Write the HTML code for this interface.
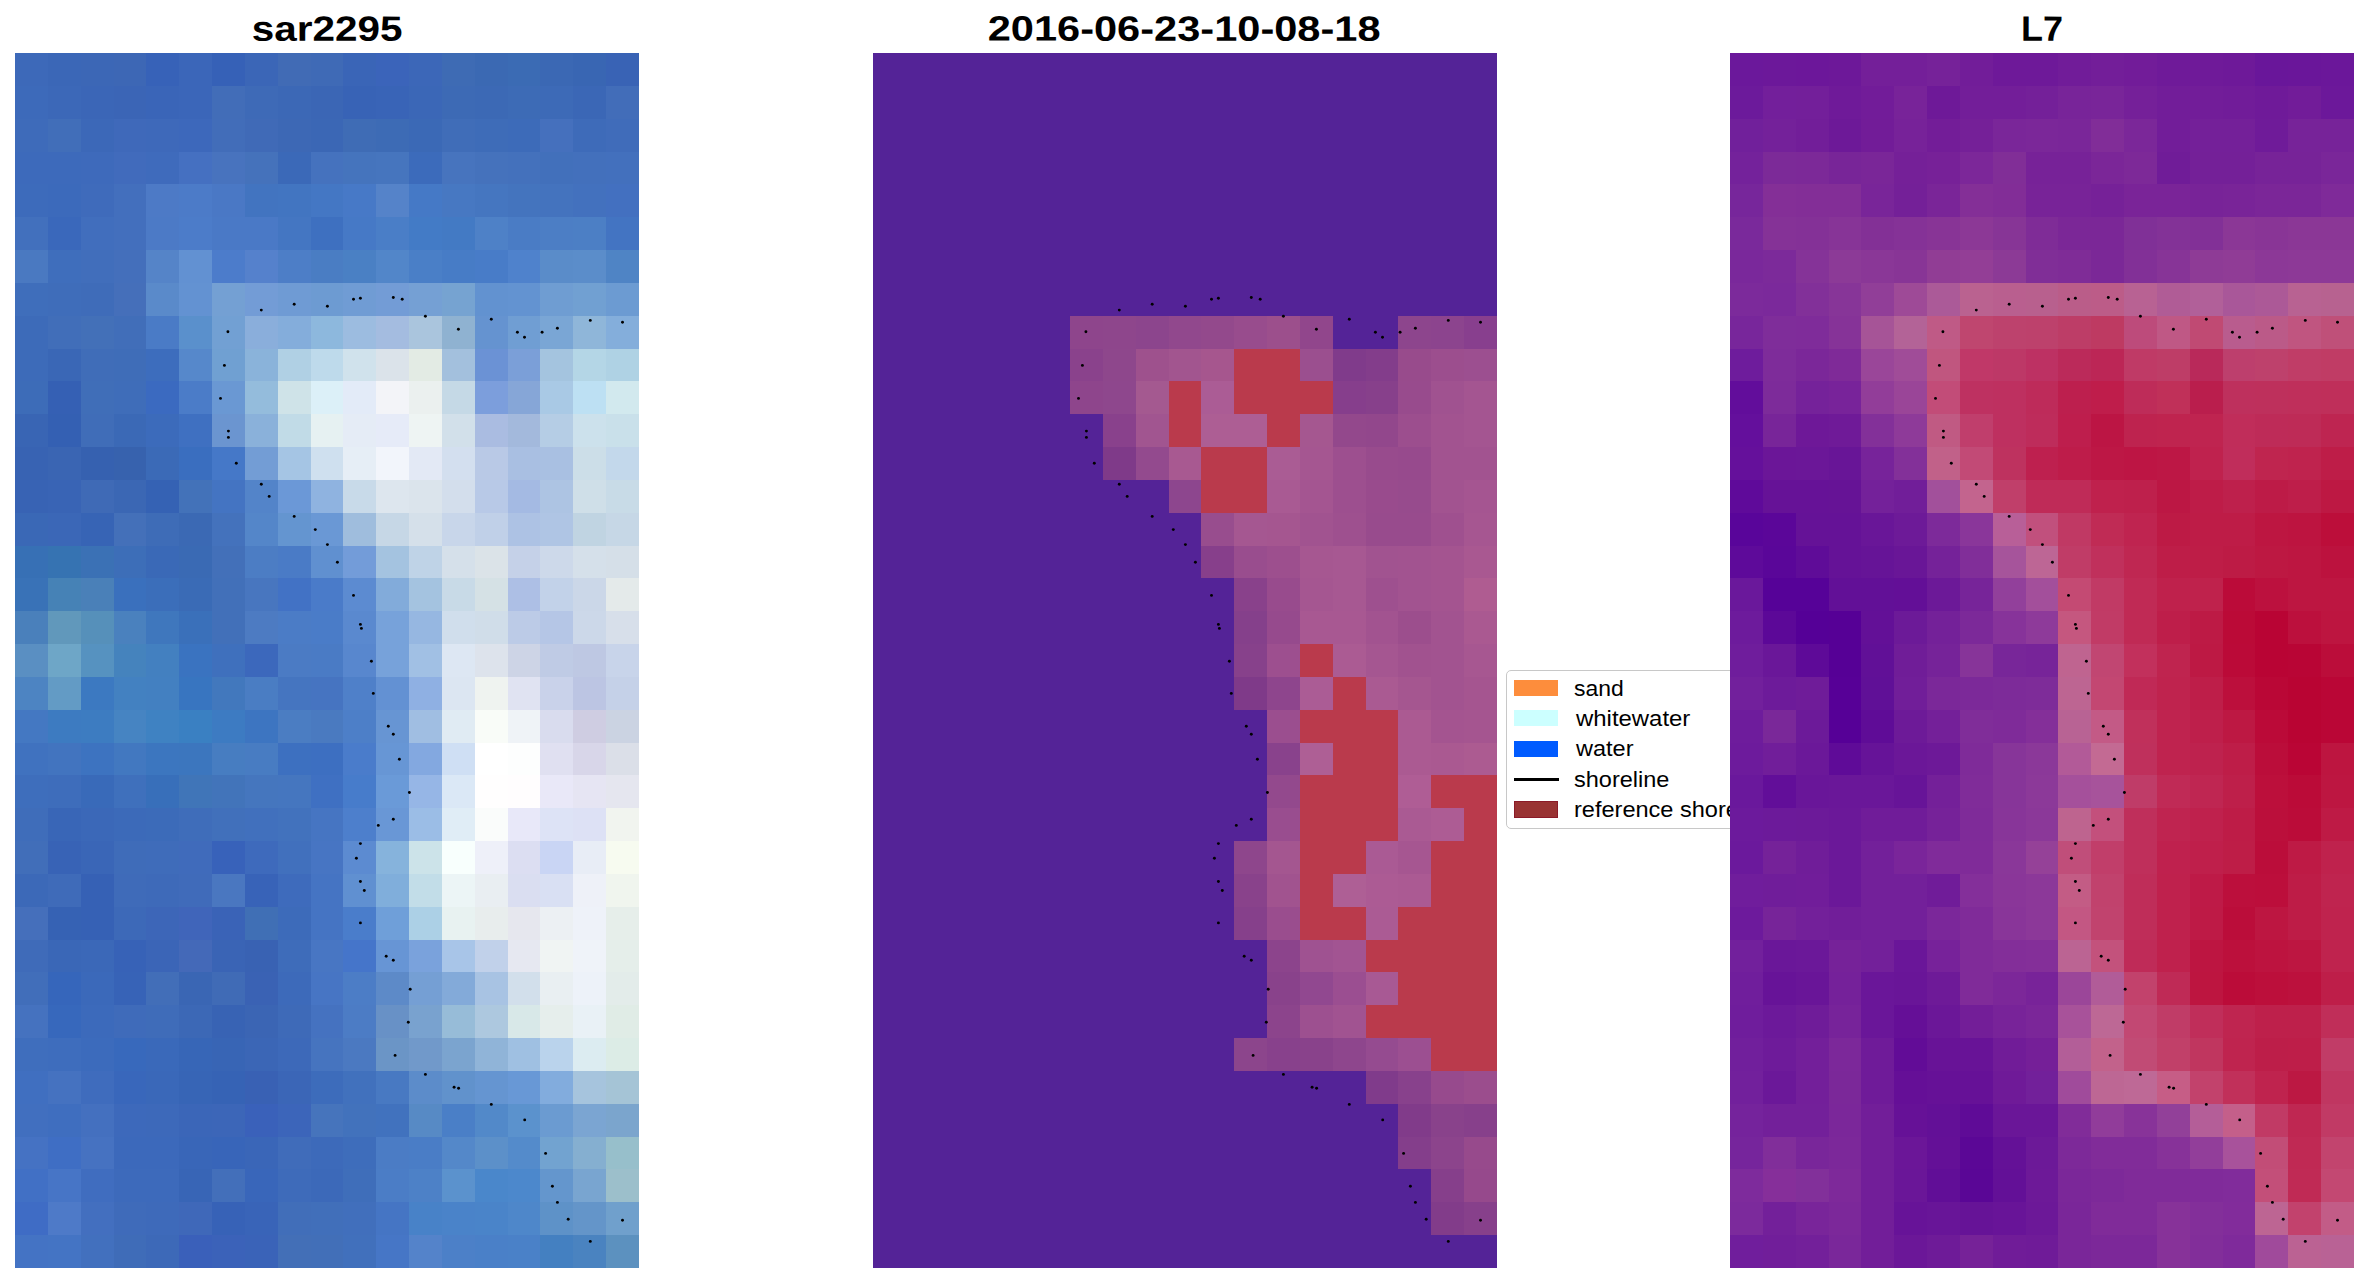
<!DOCTYPE html>
<html><head><meta charset="utf-8"><title>shoreline</title>
<style>
html,body{margin:0;padding:0;background:#fff;}
body{width:2369px;height:1283px;position:relative;overflow:hidden;font-family:"Liberation Sans",sans-serif;color:#000;}
.p{position:absolute;top:53px;display:block;}
.t{position:absolute;top:8.9px;height:40px;line-height:40px;font-weight:bold;font-size:36px;white-space:nowrap;text-align:center;transform-origin:50% 50%;}
.t span{display:inline-block;transform-origin:50% 50%;}
#lg{position:absolute;left:1506.4px;top:670.2px;width:240px;height:159.2px;box-sizing:border-box;border:1.5px solid #c8c8c8;border-radius:5px;background:#fff;}
.sw{position:absolute;left:1514px;width:44px;height:15.5px;}
.lb{position:absolute;left:1574px;font-size:22px;height:30px;line-height:30px;white-space:nowrap;}
.lb span{display:inline-block;transform-origin:0 50%;}
</style></head><body>
<div class="t" style="left:177px;width:300px"><span style="transform:rotate(0.03deg) scale(1.124,0.975)">sar2295</span></div>
<div class="t" style="left:934.3px;width:500px"><span style="transform:rotate(0.03deg) scale(1.1545,0.975)">2016-06-23-10-08-18</span></div>
<div class="t" style="left:1892px;width:300px"><span style="transform:rotate(0.03deg) scale(1.0,0.975)">L7</span></div>
<div id="lg"></div>
<div class="sw" style="top:680.3px;background:#fd8d3c"></div>
<div class="sw" style="top:710.3px;height:16px;background:#ccffff"></div>
<div class="sw" style="top:741.3px;background:#005bff"></div>
<div class="sw" style="top:777.5px;height:3.4px;width:45px;background:#000"></div>
<div class="sw" style="top:801px;height:16.8px;background:#993333;box-sizing:border-box;border:1.5px solid #8b1a28"></div>
<div class="lb" style="top:673.6px"><span style="transform:scaleX(1.042)">sand</span></div>
<div class="lb" style="top:703.9px;left:1576px"><span style="transform:scaleX(1.087)">whitewater</span></div>
<div class="lb" style="top:734.2px;left:1576px"><span style="transform:scaleX(1.068)">water</span></div>
<div class="lb" style="top:764.5px"><span style="transform:scaleX(1.068)">shoreline</span></div>
<div class="lb" style="top:794.8px"><span style="transform:scaleX(1.07)">reference shoreline</span></div>
<svg class="p" style="left:15px;background:#3d69b9" width="624" height="1215" viewBox="0 0 624 1215" shape-rendering="crispEdges"><rect x="33" y="0" width="33" height="33" fill="#3b67b7"/><rect x="66" y="0" width="33" height="33" fill="#3c67b6"/><rect x="99" y="0" width="32" height="33" fill="#3d67b5"/><rect x="131" y="0" width="33" height="33" fill="#3762b8"/><rect x="164" y="0" width="33" height="33" fill="#3b66b9"/><rect x="197" y="0" width="33" height="33" fill="#3661b7"/><rect x="230" y="0" width="33" height="33" fill="#3b66b7"/><rect x="263" y="0" width="33" height="33" fill="#416bb5"/><rect x="296" y="0" width="32" height="33" fill="#3f6ab6"/><rect x="328" y="0" width="33" height="33" fill="#3a65b7"/><rect x="361" y="0" width="33" height="33" fill="#3b64ba"/><rect x="394" y="0" width="33" height="33" fill="#3c67b8"/><rect x="427" y="0" width="33" height="33" fill="#3e6bb4"/><rect x="460" y="0" width="33" height="33" fill="#3b69b3"/><rect x="493" y="0" width="32" height="33" fill="#3b6bb4"/><rect x="525" y="0" width="33" height="33" fill="#3b68b4"/><rect x="558" y="0" width="33" height="33" fill="#3966b3"/><rect x="591" y="0" width="33" height="33" fill="#3963b5"/><rect x="0" y="33" width="33" height="33" fill="#3d6aba"/><rect x="33" y="33" width="33" height="33" fill="#3c68b8"/><rect x="66" y="33" width="33" height="33" fill="#3b66b7"/><rect x="99" y="33" width="32" height="33" fill="#3b65b6"/><rect x="131" y="33" width="33" height="33" fill="#3a65b8"/><rect x="164" y="33" width="33" height="33" fill="#3b66b9"/><rect x="197" y="33" width="33" height="33" fill="#426db8"/><rect x="230" y="33" width="33" height="33" fill="#3e6ab7"/><rect x="263" y="33" width="33" height="33" fill="#3c68b6"/><rect x="296" y="33" width="32" height="33" fill="#3b66b5"/><rect x="328" y="33" width="33" height="33" fill="#3863b6"/><rect x="361" y="33" width="33" height="33" fill="#3964b7"/><rect x="394" y="33" width="33" height="33" fill="#3b67b7"/><rect x="427" y="33" width="33" height="33" fill="#3d6ab5"/><rect x="460" y="33" width="33" height="33" fill="#3c69b5"/><rect x="493" y="33" width="32" height="33" fill="#3d6bb6"/><rect x="525" y="33" width="33" height="33" fill="#3d6ab7"/><rect x="558" y="33" width="33" height="33" fill="#3b67b6"/><rect x="591" y="33" width="33" height="33" fill="#426db9"/><rect x="0" y="66" width="33" height="33" fill="#3e6bba"/><rect x="33" y="66" width="33" height="33" fill="#416eb9"/><rect x="66" y="66" width="33" height="33" fill="#3c68b8"/><rect x="99" y="66" width="32" height="33" fill="#3f69ba"/><rect x="131" y="66" width="33" height="33" fill="#3e69ba"/><rect x="164" y="66" width="33" height="33" fill="#3d68bb"/><rect x="197" y="66" width="33" height="33" fill="#426db9"/><rect x="230" y="66" width="33" height="33" fill="#406ab7"/><rect x="263" y="66" width="33" height="33" fill="#3d68b5"/><rect x="296" y="66" width="32" height="33" fill="#3b67b5"/><rect x="328" y="66" width="33" height="33" fill="#3f6cb5"/><rect x="361" y="66" width="33" height="33" fill="#3d6bb5"/><rect x="394" y="66" width="33" height="33" fill="#3b69b6"/><rect x="427" y="66" width="33" height="33" fill="#406db8"/><rect x="460" y="66" width="33" height="33" fill="#3e6cb8"/><rect x="493" y="66" width="32" height="33" fill="#3d6bb9"/><rect x="525" y="66" width="33" height="33" fill="#4570bd"/><rect x="558" y="66" width="33" height="33" fill="#3e6bb9"/><rect x="591" y="66" width="33" height="33" fill="#406cba"/><rect x="0" y="99" width="66" height="32" fill="#3d6abb"/><rect x="66" y="99" width="33" height="32" fill="#3e6abb"/><rect x="99" y="99" width="32" height="32" fill="#416bbc"/><rect x="131" y="99" width="33" height="32" fill="#3f6bbc"/><rect x="164" y="99" width="33" height="32" fill="#4570c1"/><rect x="197" y="99" width="33" height="32" fill="#4873be"/><rect x="230" y="99" width="33" height="32" fill="#4572bb"/><rect x="263" y="99" width="33" height="32" fill="#3b69b8"/><rect x="296" y="99" width="32" height="32" fill="#4572be"/><rect x="328" y="99" width="33" height="32" fill="#4574bd"/><rect x="361" y="99" width="33" height="32" fill="#4675be"/><rect x="394" y="99" width="33" height="32" fill="#3c6bbb"/><rect x="427" y="99" width="33" height="32" fill="#4774be"/><rect x="460" y="99" width="33" height="32" fill="#4572bc"/><rect x="493" y="99" width="32" height="32" fill="#4471bc"/><rect x="525" y="99" width="33" height="32" fill="#4270bb"/><rect x="558" y="99" width="33" height="32" fill="#4370bc"/><rect x="591" y="99" width="33" height="32" fill="#4370bd"/><rect x="0" y="131" width="33" height="33" fill="#3d6bbb"/><rect x="33" y="131" width="33" height="33" fill="#3c6abb"/><rect x="66" y="131" width="33" height="33" fill="#3f6bbb"/><rect x="99" y="131" width="32" height="33" fill="#436fbd"/><rect x="131" y="131" width="33" height="33" fill="#4d7ac6"/><rect x="164" y="131" width="33" height="33" fill="#4c7bc8"/><rect x="197" y="131" width="33" height="33" fill="#4a78c5"/><rect x="230" y="131" width="33" height="33" fill="#4274c0"/><rect x="263" y="131" width="33" height="33" fill="#4275c1"/><rect x="296" y="131" width="32" height="33" fill="#4477c4"/><rect x="328" y="131" width="33" height="33" fill="#4779c7"/><rect x="361" y="131" width="33" height="33" fill="#5583c9"/><rect x="394" y="131" width="33" height="33" fill="#4579c6"/><rect x="427" y="131" width="33" height="33" fill="#4778c2"/><rect x="460" y="131" width="33" height="33" fill="#4576c0"/><rect x="493" y="131" width="32" height="33" fill="#4474be"/><rect x="525" y="131" width="33" height="33" fill="#4473be"/><rect x="558" y="131" width="33" height="33" fill="#4371be"/><rect x="591" y="131" width="33" height="33" fill="#4370c0"/><rect x="0" y="164" width="33" height="33" fill="#4270bd"/><rect x="33" y="164" width="33" height="33" fill="#3a68bb"/><rect x="66" y="164" width="33" height="33" fill="#416ebd"/><rect x="99" y="164" width="32" height="33" fill="#436fbd"/><rect x="131" y="164" width="33" height="33" fill="#4c7ac6"/><rect x="164" y="164" width="33" height="33" fill="#4c7cc9"/><rect x="197" y="164" width="66" height="33" fill="#4a79c6"/><rect x="263" y="164" width="33" height="33" fill="#4476c2"/><rect x="296" y="164" width="32" height="33" fill="#3e70c0"/><rect x="328" y="164" width="33" height="33" fill="#4679c6"/><rect x="361" y="164" width="33" height="33" fill="#4a7ec7"/><rect x="394" y="164" width="33" height="33" fill="#437bc6"/><rect x="427" y="164" width="33" height="33" fill="#437ac4"/><rect x="460" y="164" width="33" height="33" fill="#4e81c7"/><rect x="493" y="164" width="32" height="33" fill="#4a7cc5"/><rect x="525" y="164" width="33" height="33" fill="#4c7ec5"/><rect x="558" y="164" width="33" height="33" fill="#4c7fc5"/><rect x="591" y="164" width="33" height="33" fill="#4374c2"/><rect x="0" y="197" width="33" height="33" fill="#4a79c1"/><rect x="33" y="197" width="33" height="33" fill="#3f6ebc"/><rect x="66" y="197" width="33" height="33" fill="#416ebb"/><rect x="99" y="197" width="32" height="33" fill="#446fbb"/><rect x="131" y="197" width="33" height="33" fill="#5584c8"/><rect x="164" y="197" width="33" height="33" fill="#6291d2"/><rect x="197" y="197" width="33" height="33" fill="#4c7ccb"/><rect x="230" y="197" width="33" height="33" fill="#5581cc"/><rect x="263" y="197" width="33" height="33" fill="#4d7ec7"/><rect x="296" y="197" width="32" height="33" fill="#4a7dc3"/><rect x="328" y="197" width="33" height="33" fill="#4a80c4"/><rect x="361" y="197" width="33" height="33" fill="#5286c9"/><rect x="394" y="197" width="33" height="33" fill="#4a7fc7"/><rect x="427" y="197" width="33" height="33" fill="#477cc6"/><rect x="460" y="197" width="33" height="33" fill="#487cc8"/><rect x="493" y="197" width="32" height="33" fill="#4f82cc"/><rect x="525" y="197" width="33" height="33" fill="#5a8cc9"/><rect x="558" y="197" width="33" height="33" fill="#5b8dca"/><rect x="591" y="197" width="33" height="33" fill="#4f84c5"/><rect x="0" y="230" width="33" height="33" fill="#3f6ebb"/><rect x="33" y="230" width="33" height="33" fill="#3f6dba"/><rect x="66" y="230" width="33" height="33" fill="#3f6cb9"/><rect x="99" y="230" width="32" height="33" fill="#456fba"/><rect x="131" y="230" width="33" height="33" fill="#5a8aca"/><rect x="164" y="230" width="33" height="33" fill="#6392d2"/><rect x="197" y="230" width="33" height="33" fill="#74a0d3"/><rect x="230" y="230" width="33" height="33" fill="#739cd6"/><rect x="263" y="230" width="33" height="33" fill="#6f9bd4"/><rect x="296" y="230" width="32" height="33" fill="#6d9bd2"/><rect x="328" y="230" width="33" height="33" fill="#709cd4"/><rect x="361" y="230" width="33" height="33" fill="#739cd6"/><rect x="394" y="230" width="33" height="33" fill="#75a0d4"/><rect x="427" y="230" width="33" height="33" fill="#76a3d1"/><rect x="460" y="230" width="33" height="33" fill="#6292d0"/><rect x="493" y="230" width="32" height="33" fill="#6393d1"/><rect x="525" y="230" width="33" height="33" fill="#6f9dd2"/><rect x="558" y="230" width="33" height="33" fill="#71a0d2"/><rect x="591" y="230" width="33" height="33" fill="#6c9bd2"/><rect x="0" y="263" width="33" height="33" fill="#3d6bb9"/><rect x="33" y="263" width="33" height="33" fill="#416eb9"/><rect x="66" y="263" width="33" height="33" fill="#4370b8"/><rect x="99" y="263" width="32" height="33" fill="#416eb9"/><rect x="131" y="263" width="33" height="33" fill="#4a7bc6"/><rect x="164" y="263" width="33" height="33" fill="#5a90cc"/><rect x="197" y="263" width="33" height="33" fill="#72a0d3"/><rect x="230" y="263" width="33" height="33" fill="#8aaedb"/><rect x="263" y="263" width="33" height="33" fill="#84addb"/><rect x="296" y="263" width="32" height="33" fill="#8db8dd"/><rect x="328" y="263" width="33" height="33" fill="#9cbce0"/><rect x="361" y="263" width="33" height="33" fill="#a4bce0"/><rect x="394" y="263" width="33" height="33" fill="#aac5dd"/><rect x="427" y="263" width="33" height="33" fill="#8fb2d1"/><rect x="460" y="263" width="33" height="33" fill="#6593d0"/><rect x="493" y="263" width="32" height="33" fill="#709ed3"/><rect x="525" y="263" width="33" height="33" fill="#7aa6d5"/><rect x="558" y="263" width="33" height="33" fill="#8fb6d9"/><rect x="591" y="263" width="33" height="33" fill="#84aedb"/><rect x="0" y="296" width="33" height="32" fill="#3d6bb9"/><rect x="33" y="296" width="33" height="32" fill="#3a67b6"/><rect x="66" y="296" width="33" height="32" fill="#406db8"/><rect x="99" y="296" width="32" height="32" fill="#3f6db8"/><rect x="131" y="296" width="33" height="32" fill="#3d6dbd"/><rect x="164" y="296" width="33" height="32" fill="#5688cb"/><rect x="197" y="296" width="33" height="32" fill="#70a0d2"/><rect x="230" y="296" width="33" height="32" fill="#8ab3da"/><rect x="263" y="296" width="33" height="32" fill="#b0d0e4"/><rect x="296" y="296" width="32" height="32" fill="#bedaeb"/><rect x="328" y="296" width="33" height="32" fill="#d0e2ec"/><rect x="361" y="296" width="33" height="32" fill="#dbe3ea"/><rect x="394" y="296" width="33" height="32" fill="#e3ebe4"/><rect x="427" y="296" width="33" height="32" fill="#a3c0dd"/><rect x="460" y="296" width="33" height="32" fill="#6b92d5"/><rect x="493" y="296" width="32" height="32" fill="#7b9fd8"/><rect x="525" y="296" width="33" height="32" fill="#a4c4df"/><rect x="558" y="296" width="33" height="32" fill="#b4d6e6"/><rect x="591" y="296" width="33" height="32" fill="#afd2e4"/><rect x="0" y="328" width="33" height="33" fill="#3d6cb8"/><rect x="33" y="328" width="33" height="33" fill="#3560b4"/><rect x="66" y="328" width="33" height="33" fill="#406eb8"/><rect x="99" y="328" width="32" height="33" fill="#3f6db9"/><rect x="131" y="328" width="33" height="33" fill="#3b6ac0"/><rect x="164" y="328" width="33" height="33" fill="#4b7cc8"/><rect x="197" y="328" width="33" height="33" fill="#6a98d3"/><rect x="230" y="328" width="33" height="33" fill="#94bcdc"/><rect x="263" y="328" width="33" height="33" fill="#cfe3e8"/><rect x="296" y="328" width="32" height="33" fill="#dcf0f8"/><rect x="328" y="328" width="33" height="33" fill="#e3ebf8"/><rect x="361" y="328" width="33" height="33" fill="#f3f4f8"/><rect x="394" y="328" width="33" height="33" fill="#ebf0ef"/><rect x="427" y="328" width="33" height="33" fill="#c5d9e6"/><rect x="460" y="328" width="33" height="33" fill="#7c9edc"/><rect x="493" y="328" width="32" height="33" fill="#86a6d7"/><rect x="525" y="328" width="33" height="33" fill="#a9c9e5"/><rect x="558" y="328" width="33" height="33" fill="#bde0f3"/><rect x="591" y="328" width="33" height="33" fill="#d2e9ee"/><rect x="0" y="361" width="33" height="33" fill="#3965b4"/><rect x="33" y="361" width="33" height="33" fill="#3460b3"/><rect x="66" y="361" width="33" height="33" fill="#406db8"/><rect x="99" y="361" width="32" height="33" fill="#3b69b6"/><rect x="131" y="361" width="33" height="33" fill="#3c6bbb"/><rect x="164" y="361" width="33" height="33" fill="#3f70c1"/><rect x="197" y="361" width="33" height="33" fill="#6b95d0"/><rect x="230" y="361" width="33" height="33" fill="#8ab1da"/><rect x="263" y="361" width="33" height="33" fill="#c1dbe7"/><rect x="296" y="361" width="32" height="33" fill="#e6f1f2"/><rect x="328" y="361" width="33" height="33" fill="#e5ecf6"/><rect x="361" y="361" width="33" height="33" fill="#e6ebf8"/><rect x="394" y="361" width="33" height="33" fill="#eef4f3"/><rect x="427" y="361" width="33" height="33" fill="#d2e0ea"/><rect x="460" y="361" width="33" height="33" fill="#aabce1"/><rect x="493" y="361" width="32" height="33" fill="#a3b9dc"/><rect x="525" y="361" width="33" height="33" fill="#b5cde5"/><rect x="558" y="361" width="33" height="33" fill="#cce1ec"/><rect x="591" y="361" width="33" height="33" fill="#c9e0ea"/><rect x="0" y="394" width="33" height="33" fill="#3863b3"/><rect x="33" y="394" width="33" height="33" fill="#3a65b3"/><rect x="66" y="394" width="33" height="33" fill="#3661b0"/><rect x="99" y="394" width="32" height="33" fill="#3762ae"/><rect x="131" y="394" width="33" height="33" fill="#3b6ab7"/><rect x="164" y="394" width="33" height="33" fill="#3a6ebf"/><rect x="197" y="394" width="33" height="33" fill="#4578c8"/><rect x="230" y="394" width="33" height="33" fill="#739dd5"/><rect x="263" y="394" width="33" height="33" fill="#a5c5e4"/><rect x="296" y="394" width="32" height="33" fill="#cfe0ef"/><rect x="328" y="394" width="33" height="33" fill="#e6eef6"/><rect x="361" y="394" width="33" height="33" fill="#f2f5fb"/><rect x="394" y="394" width="33" height="33" fill="#e3e9f5"/><rect x="427" y="394" width="33" height="33" fill="#d3dfef"/><rect x="460" y="394" width="33" height="33" fill="#b9c9e6"/><rect x="493" y="394" width="32" height="33" fill="#a9bfe2"/><rect x="525" y="394" width="33" height="33" fill="#a9c0e2"/><rect x="558" y="394" width="33" height="33" fill="#ccdee8"/><rect x="591" y="394" width="33" height="33" fill="#c3d8eb"/><rect x="0" y="427" width="33" height="33" fill="#3863b4"/><rect x="33" y="427" width="33" height="33" fill="#3964b5"/><rect x="66" y="427" width="33" height="33" fill="#3f6ab6"/><rect x="99" y="427" width="32" height="33" fill="#3b67b4"/><rect x="131" y="427" width="33" height="33" fill="#3562b4"/><rect x="164" y="427" width="33" height="33" fill="#4372b9"/><rect x="197" y="427" width="33" height="33" fill="#4474c2"/><rect x="230" y="427" width="33" height="33" fill="#5384c9"/><rect x="263" y="427" width="33" height="33" fill="#6b98d7"/><rect x="296" y="427" width="32" height="33" fill="#8fb3e0"/><rect x="328" y="427" width="33" height="33" fill="#c8dae9"/><rect x="361" y="427" width="33" height="33" fill="#dde6ee"/><rect x="394" y="427" width="33" height="33" fill="#dbe4ec"/><rect x="427" y="427" width="33" height="33" fill="#d3deec"/><rect x="460" y="427" width="33" height="33" fill="#b8c9e7"/><rect x="493" y="427" width="32" height="33" fill="#a4bae3"/><rect x="525" y="427" width="33" height="33" fill="#adc4e3"/><rect x="558" y="427" width="33" height="33" fill="#cfdfe8"/><rect x="591" y="427" width="33" height="33" fill="#c8dbe7"/><rect x="0" y="460" width="33" height="33" fill="#3a68b6"/><rect x="33" y="460" width="33" height="33" fill="#3b67b7"/><rect x="66" y="460" width="33" height="33" fill="#3764b5"/><rect x="99" y="460" width="32" height="33" fill="#4470b9"/><rect x="131" y="460" width="33" height="33" fill="#3e6cb7"/><rect x="164" y="460" width="33" height="33" fill="#3b69b4"/><rect x="197" y="460" width="33" height="33" fill="#4472bc"/><rect x="230" y="460" width="33" height="33" fill="#5486c9"/><rect x="263" y="460" width="33" height="33" fill="#6495d0"/><rect x="296" y="460" width="32" height="33" fill="#6a98d5"/><rect x="328" y="460" width="33" height="33" fill="#9fbddd"/><rect x="361" y="460" width="33" height="33" fill="#c6d7e6"/><rect x="394" y="460" width="33" height="33" fill="#d5e0ea"/><rect x="427" y="460" width="33" height="33" fill="#c8d6ea"/><rect x="460" y="460" width="33" height="33" fill="#c0d0e8"/><rect x="493" y="460" width="32" height="33" fill="#adc2e4"/><rect x="525" y="460" width="33" height="33" fill="#afc5e4"/><rect x="558" y="460" width="33" height="33" fill="#c0d4e2"/><rect x="591" y="460" width="33" height="33" fill="#c6d7e6"/><rect x="0" y="493" width="33" height="32" fill="#3770b5"/><rect x="33" y="493" width="33" height="32" fill="#3673b2"/><rect x="66" y="493" width="33" height="32" fill="#3b71b5"/><rect x="99" y="493" width="32" height="32" fill="#3d6eb8"/><rect x="131" y="493" width="33" height="32" fill="#3a69b7"/><rect x="164" y="493" width="33" height="32" fill="#3a6ab4"/><rect x="197" y="493" width="33" height="32" fill="#4370b9"/><rect x="230" y="493" width="33" height="32" fill="#4c7dc4"/><rect x="263" y="493" width="33" height="32" fill="#4a7bc6"/><rect x="296" y="493" width="32" height="32" fill="#6090d0"/><rect x="328" y="493" width="33" height="32" fill="#739cd9"/><rect x="361" y="493" width="33" height="32" fill="#a4c3e0"/><rect x="394" y="493" width="33" height="32" fill="#bfd3e7"/><rect x="427" y="493" width="33" height="32" fill="#d5e0ea"/><rect x="460" y="493" width="33" height="32" fill="#dbe3e8"/><rect x="493" y="493" width="32" height="32" fill="#c5d1e8"/><rect x="525" y="493" width="33" height="32" fill="#cdd9ea"/><rect x="558" y="493" width="33" height="32" fill="#d5e0ea"/><rect x="591" y="493" width="33" height="32" fill="#d5dfe8"/><rect x="0" y="525" width="33" height="33" fill="#3972b7"/><rect x="33" y="525" width="33" height="33" fill="#4682b6"/><rect x="66" y="525" width="33" height="33" fill="#4a80b8"/><rect x="99" y="525" width="32" height="33" fill="#3a70bd"/><rect x="131" y="525" width="33" height="33" fill="#3b6eba"/><rect x="164" y="525" width="33" height="33" fill="#3a6bb6"/><rect x="197" y="525" width="33" height="33" fill="#4270b9"/><rect x="230" y="525" width="33" height="33" fill="#4876bf"/><rect x="263" y="525" width="33" height="33" fill="#4272c5"/><rect x="296" y="525" width="32" height="33" fill="#4a7bc9"/><rect x="328" y="525" width="33" height="33" fill="#5c8bd1"/><rect x="361" y="525" width="33" height="33" fill="#82abda"/><rect x="394" y="525" width="33" height="33" fill="#a4c3e0"/><rect x="427" y="525" width="33" height="33" fill="#c8dae7"/><rect x="460" y="525" width="33" height="33" fill="#d5e1e5"/><rect x="493" y="525" width="32" height="33" fill="#adbfe5"/><rect x="525" y="525" width="33" height="33" fill="#c2d2e9"/><rect x="558" y="525" width="33" height="33" fill="#cbd7e8"/><rect x="591" y="525" width="33" height="33" fill="#e4eaea"/><rect x="0" y="558" width="33" height="33" fill="#4a80bb"/><rect x="33" y="558" width="33" height="33" fill="#6198bb"/><rect x="66" y="558" width="33" height="33" fill="#5690ba"/><rect x="99" y="558" width="32" height="33" fill="#4a81be"/><rect x="131" y="558" width="33" height="33" fill="#3f77bd"/><rect x="164" y="558" width="33" height="33" fill="#3a70ba"/><rect x="197" y="558" width="33" height="33" fill="#4270b9"/><rect x="230" y="558" width="33" height="33" fill="#4d7bc2"/><rect x="263" y="558" width="33" height="33" fill="#4b7cc6"/><rect x="296" y="558" width="32" height="33" fill="#4a7cc8"/><rect x="328" y="558" width="33" height="33" fill="#5a89cf"/><rect x="361" y="558" width="33" height="33" fill="#77a2da"/><rect x="394" y="558" width="33" height="33" fill="#96b7e1"/><rect x="427" y="558" width="33" height="33" fill="#d0deec"/><rect x="460" y="558" width="33" height="33" fill="#d0dde9"/><rect x="493" y="558" width="32" height="33" fill="#bccbe7"/><rect x="525" y="558" width="33" height="33" fill="#b5c6e6"/><rect x="558" y="558" width="33" height="33" fill="#ccd8e9"/><rect x="591" y="558" width="33" height="33" fill="#d7dfea"/><rect x="0" y="591" width="33" height="33" fill="#5a8fc2"/><rect x="33" y="591" width="33" height="33" fill="#6ea6c7"/><rect x="66" y="591" width="33" height="33" fill="#5692c0"/><rect x="99" y="591" width="32" height="33" fill="#4583bd"/><rect x="131" y="591" width="33" height="33" fill="#4380c0"/><rect x="164" y="591" width="33" height="33" fill="#3a73c0"/><rect x="197" y="591" width="33" height="33" fill="#3f70bd"/><rect x="230" y="591" width="33" height="33" fill="#3c68bc"/><rect x="263" y="591" width="33" height="33" fill="#4b7bc4"/><rect x="296" y="591" width="32" height="33" fill="#4a7bc5"/><rect x="328" y="591" width="33" height="33" fill="#5887ce"/><rect x="361" y="591" width="33" height="33" fill="#77a2da"/><rect x="394" y="591" width="33" height="33" fill="#a1c0e4"/><rect x="427" y="591" width="33" height="33" fill="#dde7f3"/><rect x="460" y="591" width="33" height="33" fill="#dde3ec"/><rect x="493" y="591" width="32" height="33" fill="#cdd4e6"/><rect x="525" y="591" width="33" height="33" fill="#bfcbe5"/><rect x="558" y="591" width="33" height="33" fill="#bec8e3"/><rect x="591" y="591" width="33" height="33" fill="#c8d4ea"/><rect x="0" y="624" width="33" height="33" fill="#4d84c2"/><rect x="33" y="624" width="33" height="33" fill="#639bc5"/><rect x="66" y="624" width="33" height="33" fill="#3c79c1"/><rect x="99" y="624" width="32" height="33" fill="#4381c1"/><rect x="131" y="624" width="33" height="33" fill="#4380c1"/><rect x="164" y="624" width="33" height="33" fill="#3875c0"/><rect x="197" y="624" width="33" height="33" fill="#4278bd"/><rect x="230" y="624" width="33" height="33" fill="#4a7dc3"/><rect x="263" y="624" width="33" height="33" fill="#4575c0"/><rect x="296" y="624" width="32" height="33" fill="#4674c1"/><rect x="328" y="624" width="33" height="33" fill="#4f80c9"/><rect x="361" y="624" width="33" height="33" fill="#6391d3"/><rect x="394" y="624" width="33" height="33" fill="#8fb0e3"/><rect x="427" y="624" width="33" height="33" fill="#dce6f2"/><rect x="460" y="624" width="33" height="33" fill="#eff3f0"/><rect x="493" y="624" width="32" height="33" fill="#e0e3f2"/><rect x="525" y="624" width="33" height="33" fill="#c9d2ea"/><rect x="558" y="624" width="33" height="33" fill="#bcc5e3"/><rect x="591" y="624" width="33" height="33" fill="#c5d1e8"/><rect x="0" y="657" width="33" height="33" fill="#4478c2"/><rect x="33" y="657" width="33" height="33" fill="#3d7bc1"/><rect x="66" y="657" width="33" height="33" fill="#3d7cc1"/><rect x="99" y="657" width="32" height="33" fill="#4684c2"/><rect x="131" y="657" width="33" height="33" fill="#3f82c2"/><rect x="164" y="657" width="33" height="33" fill="#3a80c2"/><rect x="197" y="657" width="33" height="33" fill="#3d7bc2"/><rect x="230" y="657" width="33" height="33" fill="#3d75c1"/><rect x="263" y="657" width="33" height="33" fill="#4b7dc2"/><rect x="296" y="657" width="32" height="33" fill="#4a7ac0"/><rect x="328" y="657" width="33" height="33" fill="#4d7fc8"/><rect x="361" y="657" width="33" height="33" fill="#6795d3"/><rect x="394" y="657" width="33" height="33" fill="#a0bee2"/><rect x="427" y="657" width="33" height="33" fill="#e0ebf3"/><rect x="460" y="657" width="33" height="33" fill="#f9fcf8"/><rect x="493" y="657" width="32" height="33" fill="#eff3f7"/><rect x="525" y="657" width="33" height="33" fill="#d9dcee"/><rect x="558" y="657" width="33" height="33" fill="#cfcde2"/><rect x="591" y="657" width="33" height="33" fill="#cbd3e2"/><rect x="0" y="690" width="33" height="32" fill="#4072bf"/><rect x="33" y="690" width="33" height="32" fill="#4274bf"/><rect x="66" y="690" width="33" height="32" fill="#3d73c0"/><rect x="99" y="690" width="32" height="32" fill="#4278c0"/><rect x="131" y="690" width="33" height="32" fill="#3c76bf"/><rect x="164" y="690" width="33" height="32" fill="#3c76be"/><rect x="197" y="690" width="33" height="32" fill="#477dc1"/><rect x="230" y="690" width="33" height="32" fill="#487cc2"/><rect x="263" y="690" width="33" height="32" fill="#3d70c0"/><rect x="296" y="690" width="32" height="32" fill="#3d6fc1"/><rect x="328" y="690" width="33" height="32" fill="#4a7ccb"/><rect x="361" y="690" width="33" height="32" fill="#6796d5"/><rect x="394" y="690" width="33" height="32" fill="#83a8e0"/><rect x="427" y="690" width="33" height="32" fill="#cfdff4"/><rect x="460" y="690" width="33" height="32" fill="#ffffff"/><rect x="493" y="690" width="32" height="32" fill="#fdfefe"/><rect x="525" y="690" width="33" height="32" fill="#e0e0f1"/><rect x="558" y="690" width="33" height="32" fill="#d8d6e9"/><rect x="591" y="690" width="33" height="32" fill="#dbdfe8"/><rect x="0" y="722" width="33" height="33" fill="#3e6ebc"/><rect x="33" y="722" width="33" height="33" fill="#3e6dbb"/><rect x="66" y="722" width="33" height="33" fill="#396ab9"/><rect x="99" y="722" width="32" height="33" fill="#3f70bc"/><rect x="131" y="722" width="33" height="33" fill="#386fba"/><rect x="164" y="722" width="33" height="33" fill="#4075b8"/><rect x="197" y="722" width="33" height="33" fill="#4274ba"/><rect x="230" y="722" width="33" height="33" fill="#4576be"/><rect x="263" y="722" width="33" height="33" fill="#4576bf"/><rect x="296" y="722" width="32" height="33" fill="#3f70c2"/><rect x="328" y="722" width="33" height="33" fill="#477ccb"/><rect x="361" y="722" width="33" height="33" fill="#6a9ad8"/><rect x="394" y="722" width="33" height="33" fill="#96b6e6"/><rect x="427" y="722" width="33" height="33" fill="#dbe8f6"/><rect x="460" y="722" width="33" height="33" fill="#fffefe"/><rect x="493" y="722" width="32" height="33" fill="#fffdfe"/><rect x="525" y="722" width="33" height="33" fill="#e9e8f8"/><rect x="558" y="722" width="33" height="33" fill="#e6e5f3"/><rect x="591" y="722" width="33" height="33" fill="#e5e6ef"/><rect x="0" y="755" width="33" height="33" fill="#3f6dba"/><rect x="33" y="755" width="33" height="33" fill="#3966b7"/><rect x="66" y="755" width="33" height="33" fill="#3b68b8"/><rect x="99" y="755" width="32" height="33" fill="#3c6ab9"/><rect x="131" y="755" width="33" height="33" fill="#3c6bb9"/><rect x="164" y="755" width="33" height="33" fill="#3f6dba"/><rect x="197" y="755" width="33" height="33" fill="#4170bb"/><rect x="230" y="755" width="33" height="33" fill="#4170bd"/><rect x="263" y="755" width="33" height="33" fill="#4272bd"/><rect x="296" y="755" width="32" height="33" fill="#4675c2"/><rect x="328" y="755" width="33" height="33" fill="#4d7fcc"/><rect x="361" y="755" width="33" height="33" fill="#6997d6"/><rect x="394" y="755" width="33" height="33" fill="#9bbde6"/><rect x="427" y="755" width="33" height="33" fill="#e0edf6"/><rect x="460" y="755" width="33" height="33" fill="#fafcfb"/><rect x="493" y="755" width="32" height="33" fill="#e8e8f9"/><rect x="525" y="755" width="33" height="33" fill="#dde3f6"/><rect x="558" y="755" width="33" height="33" fill="#dde1f5"/><rect x="591" y="755" width="33" height="33" fill="#f1f4ef"/><rect x="0" y="788" width="33" height="33" fill="#416eb9"/><rect x="33" y="788" width="33" height="33" fill="#3863b6"/><rect x="66" y="788" width="33" height="33" fill="#3a66b7"/><rect x="99" y="788" width="32" height="33" fill="#3f6cb9"/><rect x="131" y="788" width="33" height="33" fill="#3f6cba"/><rect x="164" y="788" width="33" height="33" fill="#406bbb"/><rect x="197" y="788" width="33" height="33" fill="#3862ba"/><rect x="230" y="788" width="33" height="33" fill="#3e6abc"/><rect x="263" y="788" width="33" height="33" fill="#4170bd"/><rect x="296" y="788" width="32" height="33" fill="#4775c3"/><rect x="328" y="788" width="33" height="33" fill="#5c8bd1"/><rect x="361" y="788" width="33" height="33" fill="#86b3dc"/><rect x="394" y="788" width="33" height="33" fill="#cce3e9"/><rect x="427" y="788" width="33" height="33" fill="#f8fffd"/><rect x="460" y="788" width="33" height="33" fill="#eef0f9"/><rect x="493" y="788" width="32" height="33" fill="#dcdef2"/><rect x="525" y="788" width="33" height="33" fill="#c9d5f4"/><rect x="558" y="788" width="33" height="33" fill="#e8edf6"/><rect x="591" y="788" width="33" height="33" fill="#f7fbf0"/><rect x="0" y="821" width="33" height="33" fill="#3c69b8"/><rect x="33" y="821" width="33" height="33" fill="#3f6bb9"/><rect x="66" y="821" width="33" height="33" fill="#3661b5"/><rect x="99" y="821" width="32" height="33" fill="#3f6bb9"/><rect x="131" y="821" width="33" height="33" fill="#3e6ab9"/><rect x="164" y="821" width="33" height="33" fill="#406bba"/><rect x="197" y="821" width="33" height="33" fill="#4a77c0"/><rect x="230" y="821" width="33" height="33" fill="#3863b8"/><rect x="263" y="821" width="33" height="33" fill="#3e6bbc"/><rect x="296" y="821" width="32" height="33" fill="#4574c3"/><rect x="328" y="821" width="33" height="33" fill="#6090d1"/><rect x="361" y="821" width="33" height="33" fill="#80aedb"/><rect x="394" y="821" width="33" height="33" fill="#c2dde8"/><rect x="427" y="821" width="33" height="33" fill="#ecf5f6"/><rect x="460" y="821" width="33" height="33" fill="#e9eef2"/><rect x="493" y="821" width="32" height="33" fill="#dadef1"/><rect x="525" y="821" width="33" height="33" fill="#d9e0f3"/><rect x="558" y="821" width="33" height="33" fill="#eef1f8"/><rect x="591" y="821" width="33" height="33" fill="#f0f5ee"/><rect x="0" y="854" width="33" height="33" fill="#456fbb"/><rect x="33" y="854" width="33" height="33" fill="#3662b4"/><rect x="66" y="854" width="33" height="33" fill="#3661b5"/><rect x="99" y="854" width="32" height="33" fill="#3d69b8"/><rect x="131" y="854" width="33" height="33" fill="#3d66b8"/><rect x="164" y="854" width="33" height="33" fill="#4065ba"/><rect x="197" y="854" width="33" height="33" fill="#3a63b7"/><rect x="230" y="854" width="33" height="33" fill="#406fb5"/><rect x="263" y="854" width="33" height="33" fill="#3d6bba"/><rect x="296" y="854" width="32" height="33" fill="#4574c3"/><rect x="328" y="854" width="33" height="33" fill="#4a7dcb"/><rect x="361" y="854" width="33" height="33" fill="#6f9fd9"/><rect x="394" y="854" width="33" height="33" fill="#acd0e6"/><rect x="427" y="854" width="33" height="33" fill="#e8f2f1"/><rect x="460" y="854" width="33" height="33" fill="#e8eded"/><rect x="493" y="854" width="32" height="33" fill="#e6e7ee"/><rect x="525" y="854" width="33" height="33" fill="#ecf0f3"/><rect x="558" y="854" width="33" height="33" fill="#eef2f9"/><rect x="591" y="854" width="33" height="33" fill="#e6eeea"/><rect x="0" y="887" width="33" height="32" fill="#3f6bb9"/><rect x="33" y="887" width="33" height="32" fill="#3a67b7"/><rect x="66" y="887" width="33" height="32" fill="#3b68b8"/><rect x="99" y="887" width="32" height="32" fill="#3762b7"/><rect x="131" y="887" width="33" height="32" fill="#3b65b7"/><rect x="164" y="887" width="33" height="32" fill="#4469b8"/><rect x="197" y="887" width="33" height="32" fill="#3a64b5"/><rect x="230" y="887" width="33" height="32" fill="#3962b3"/><rect x="263" y="887" width="33" height="32" fill="#3e6cba"/><rect x="296" y="887" width="32" height="32" fill="#4876c3"/><rect x="328" y="887" width="33" height="32" fill="#4575ca"/><rect x="361" y="887" width="33" height="32" fill="#6795d5"/><rect x="394" y="887" width="33" height="32" fill="#7aa2dc"/><rect x="427" y="887" width="33" height="32" fill="#a8c5e8"/><rect x="460" y="887" width="33" height="32" fill="#c1d1ea"/><rect x="493" y="887" width="32" height="32" fill="#e6e8f1"/><rect x="525" y="887" width="33" height="32" fill="#f0f4f3"/><rect x="558" y="887" width="33" height="32" fill="#eff3f9"/><rect x="591" y="887" width="33" height="32" fill="#e5eeea"/><rect x="0" y="919" width="33" height="33" fill="#416eba"/><rect x="33" y="919" width="33" height="33" fill="#3666bb"/><rect x="66" y="919" width="33" height="33" fill="#3b69ba"/><rect x="99" y="919" width="32" height="33" fill="#3763b7"/><rect x="131" y="919" width="33" height="33" fill="#426eb8"/><rect x="164" y="919" width="33" height="33" fill="#3a66b4"/><rect x="197" y="919" width="33" height="33" fill="#406bb6"/><rect x="230" y="919" width="33" height="33" fill="#3a62b4"/><rect x="263" y="919" width="33" height="33" fill="#3d6aba"/><rect x="296" y="919" width="32" height="33" fill="#4775c4"/><rect x="328" y="919" width="33" height="33" fill="#4c7dc6"/><rect x="361" y="919" width="33" height="33" fill="#5d8ac8"/><rect x="394" y="919" width="33" height="33" fill="#759fd4"/><rect x="427" y="919" width="33" height="33" fill="#83aad9"/><rect x="460" y="919" width="33" height="33" fill="#a8c3e3"/><rect x="493" y="919" width="32" height="33" fill="#d2dfeb"/><rect x="525" y="919" width="33" height="33" fill="#e9eff2"/><rect x="558" y="919" width="33" height="33" fill="#edf2f9"/><rect x="591" y="919" width="33" height="33" fill="#e3ecea"/><rect x="0" y="952" width="33" height="33" fill="#4572bf"/><rect x="33" y="952" width="33" height="33" fill="#3768bc"/><rect x="66" y="952" width="33" height="33" fill="#3c6abb"/><rect x="99" y="952" width="32" height="33" fill="#3f6bba"/><rect x="131" y="952" width="33" height="33" fill="#3f6cb9"/><rect x="164" y="952" width="33" height="33" fill="#3c68b6"/><rect x="197" y="952" width="33" height="33" fill="#3863b4"/><rect x="230" y="952" width="33" height="33" fill="#3b65b4"/><rect x="263" y="952" width="33" height="33" fill="#3e6ab8"/><rect x="296" y="952" width="32" height="33" fill="#4572c0"/><rect x="328" y="952" width="33" height="33" fill="#4c7cc5"/><rect x="361" y="952" width="33" height="33" fill="#6891c6"/><rect x="394" y="952" width="33" height="33" fill="#79a2cf"/><rect x="427" y="952" width="33" height="33" fill="#97bcd8"/><rect x="460" y="952" width="33" height="33" fill="#adc8df"/><rect x="493" y="952" width="32" height="33" fill="#d8e8e8"/><rect x="525" y="952" width="33" height="33" fill="#e6eeec"/><rect x="558" y="952" width="33" height="33" fill="#e9f1f6"/><rect x="591" y="952" width="33" height="33" fill="#e0ece6"/><rect x="0" y="985" width="33" height="33" fill="#3f6ebd"/><rect x="33" y="985" width="33" height="33" fill="#3e6dbd"/><rect x="66" y="985" width="33" height="33" fill="#3c6bbc"/><rect x="99" y="985" width="32" height="33" fill="#3869bc"/><rect x="131" y="985" width="33" height="33" fill="#3a69ba"/><rect x="164" y="985" width="33" height="33" fill="#3766b7"/><rect x="197" y="985" width="33" height="33" fill="#3865b5"/><rect x="230" y="985" width="33" height="33" fill="#3b66b6"/><rect x="296" y="985" width="32" height="33" fill="#4674bf"/><rect x="328" y="985" width="33" height="33" fill="#4b79c1"/><rect x="361" y="985" width="33" height="33" fill="#6b95c6"/><rect x="394" y="985" width="33" height="33" fill="#7199ca"/><rect x="427" y="985" width="33" height="33" fill="#7ba4cf"/><rect x="460" y="985" width="33" height="33" fill="#90b4d8"/><rect x="493" y="985" width="32" height="33" fill="#9fc0e2"/><rect x="525" y="985" width="33" height="33" fill="#bad3ec"/><rect x="558" y="985" width="33" height="33" fill="#dcecf1"/><rect x="591" y="985" width="33" height="33" fill="#dcece6"/><rect x="0" y="1018" width="33" height="33" fill="#406fc0"/><rect x="33" y="1018" width="33" height="33" fill="#4572c0"/><rect x="66" y="1018" width="33" height="33" fill="#3f6cbd"/><rect x="99" y="1018" width="32" height="33" fill="#3967bb"/><rect x="131" y="1018" width="33" height="33" fill="#3a68b9"/><rect x="164" y="1018" width="33" height="33" fill="#3765b6"/><rect x="197" y="1018" width="33" height="33" fill="#3663b5"/><rect x="230" y="1018" width="33" height="33" fill="#3961b4"/><rect x="263" y="1018" width="33" height="33" fill="#3b66b7"/><rect x="296" y="1018" width="32" height="33" fill="#3d6cbb"/><rect x="328" y="1018" width="33" height="33" fill="#4171bd"/><rect x="361" y="1018" width="33" height="33" fill="#4879c2"/><rect x="394" y="1018" width="33" height="33" fill="#5c8cca"/><rect x="427" y="1018" width="33" height="33" fill="#6192cc"/><rect x="460" y="1018" width="33" height="33" fill="#6595d1"/><rect x="493" y="1018" width="32" height="33" fill="#6898d6"/><rect x="525" y="1018" width="33" height="33" fill="#82acdd"/><rect x="558" y="1018" width="33" height="33" fill="#a6c4dd"/><rect x="591" y="1018" width="33" height="33" fill="#a5c4d6"/><rect x="0" y="1051" width="33" height="33" fill="#416fbf"/><rect x="33" y="1051" width="33" height="33" fill="#3f6ebf"/><rect x="66" y="1051" width="33" height="33" fill="#4470bf"/><rect x="99" y="1051" width="32" height="33" fill="#3d69bb"/><rect x="131" y="1051" width="33" height="33" fill="#3d69ba"/><rect x="164" y="1051" width="33" height="33" fill="#3b66b8"/><rect x="197" y="1051" width="33" height="33" fill="#3c66b8"/><rect x="230" y="1051" width="33" height="33" fill="#3a61ba"/><rect x="263" y="1051" width="33" height="33" fill="#3c65ba"/><rect x="296" y="1051" width="32" height="33" fill="#4674bc"/><rect x="328" y="1051" width="33" height="33" fill="#4272bc"/><rect x="361" y="1051" width="33" height="33" fill="#4172be"/><rect x="394" y="1051" width="33" height="33" fill="#578ac5"/><rect x="427" y="1051" width="33" height="33" fill="#4a7fc7"/><rect x="460" y="1051" width="33" height="33" fill="#5289c9"/><rect x="493" y="1051" width="32" height="33" fill="#5b92cd"/><rect x="525" y="1051" width="33" height="33" fill="#6b9bd1"/><rect x="558" y="1051" width="33" height="33" fill="#7ba5d2"/><rect x="591" y="1051" width="33" height="33" fill="#7ba5cd"/><rect x="0" y="1084" width="33" height="32" fill="#4572c3"/><rect x="33" y="1084" width="33" height="32" fill="#3f6ec4"/><rect x="66" y="1084" width="33" height="32" fill="#4672c1"/><rect x="99" y="1084" width="65" height="32" fill="#3c69bb"/><rect x="164" y="1084" width="33" height="32" fill="#3966b8"/><rect x="197" y="1084" width="33" height="32" fill="#3865b9"/><rect x="230" y="1084" width="33" height="32" fill="#3a66b8"/><rect x="263" y="1084" width="33" height="32" fill="#406cba"/><rect x="296" y="1084" width="32" height="32" fill="#3d6aba"/><rect x="328" y="1084" width="33" height="32" fill="#3e6dbb"/><rect x="361" y="1084" width="33" height="32" fill="#4b7cc5"/><rect x="394" y="1084" width="33" height="32" fill="#4a7dc6"/><rect x="427" y="1084" width="33" height="32" fill="#5488c9"/><rect x="460" y="1084" width="33" height="32" fill="#5c90c9"/><rect x="493" y="1084" width="32" height="32" fill="#548bcb"/><rect x="525" y="1084" width="33" height="32" fill="#72a3d0"/><rect x="558" y="1084" width="33" height="32" fill="#85afd0"/><rect x="591" y="1084" width="33" height="32" fill="#97bfcb"/><rect x="0" y="1116" width="33" height="33" fill="#4170c5"/><rect x="33" y="1116" width="33" height="33" fill="#4775c6"/><rect x="66" y="1116" width="33" height="33" fill="#406dbf"/><rect x="99" y="1116" width="65" height="33" fill="#3d6abb"/><rect x="164" y="1116" width="33" height="33" fill="#3865b6"/><rect x="197" y="1116" width="33" height="33" fill="#436fba"/><rect x="230" y="1116" width="33" height="33" fill="#3966ba"/><rect x="263" y="1116" width="33" height="33" fill="#3e6bba"/><rect x="296" y="1116" width="32" height="33" fill="#3c69b9"/><rect x="328" y="1116" width="33" height="33" fill="#3f6eba"/><rect x="361" y="1116" width="33" height="33" fill="#4b7dc6"/><rect x="394" y="1116" width="33" height="33" fill="#4d81c7"/><rect x="427" y="1116" width="33" height="33" fill="#5b92cd"/><rect x="460" y="1116" width="33" height="33" fill="#4a87cb"/><rect x="493" y="1116" width="32" height="33" fill="#4c88cc"/><rect x="525" y="1116" width="33" height="33" fill="#6496cd"/><rect x="558" y="1116" width="33" height="33" fill="#79a5d0"/><rect x="591" y="1116" width="33" height="33" fill="#9cbfcb"/><rect x="0" y="1149" width="33" height="33" fill="#3f6cc5"/><rect x="33" y="1149" width="33" height="33" fill="#4e7ac8"/><rect x="66" y="1149" width="33" height="33" fill="#436fbf"/><rect x="99" y="1149" width="32" height="33" fill="#3f6bba"/><rect x="131" y="1149" width="33" height="33" fill="#3e6aba"/><rect x="164" y="1149" width="33" height="33" fill="#3f68b9"/><rect x="197" y="1149" width="33" height="33" fill="#3762b7"/><rect x="230" y="1149" width="33" height="33" fill="#3964b8"/><rect x="263" y="1149" width="33" height="33" fill="#416eb9"/><rect x="296" y="1149" width="32" height="33" fill="#416fba"/><rect x="328" y="1149" width="33" height="33" fill="#416fbc"/><rect x="361" y="1149" width="33" height="33" fill="#4575c4"/><rect x="394" y="1149" width="33" height="33" fill="#4882c8"/><rect x="427" y="1149" width="33" height="33" fill="#4a83c9"/><rect x="460" y="1149" width="33" height="33" fill="#4a84c9"/><rect x="493" y="1149" width="32" height="33" fill="#4e87ca"/><rect x="525" y="1149" width="33" height="33" fill="#5e92c8"/><rect x="558" y="1149" width="33" height="33" fill="#6495c9"/><rect x="591" y="1149" width="33" height="33" fill="#70a0cc"/><rect x="0" y="1182" width="33" height="33" fill="#4473c4"/><rect x="33" y="1182" width="33" height="33" fill="#4474c4"/><rect x="66" y="1182" width="33" height="33" fill="#4270be"/><rect x="99" y="1182" width="32" height="33" fill="#3f6cb8"/><rect x="131" y="1182" width="33" height="33" fill="#3d69b8"/><rect x="164" y="1182" width="33" height="33" fill="#3a60ba"/><rect x="197" y="1182" width="33" height="33" fill="#3b62b9"/><rect x="230" y="1182" width="33" height="33" fill="#3a63b8"/><rect x="263" y="1182" width="33" height="33" fill="#436fb7"/><rect x="296" y="1182" width="32" height="33" fill="#426fb8"/><rect x="328" y="1182" width="33" height="33" fill="#4170bc"/><rect x="361" y="1182" width="33" height="33" fill="#4676c6"/><rect x="394" y="1182" width="33" height="33" fill="#5483ca"/><rect x="427" y="1182" width="33" height="33" fill="#4c80c8"/><rect x="460" y="1182" width="33" height="33" fill="#4a80c8"/><rect x="493" y="1182" width="32" height="33" fill="#4a81c8"/><rect x="525" y="1182" width="33" height="33" fill="#4480c1"/><rect x="558" y="1182" width="33" height="33" fill="#4a83c0"/><rect x="591" y="1182" width="33" height="33" fill="#5c91bf"/><g fill="#000" shape-rendering="geometricPrecision"><circle cx="246.3" cy="257.1" r="1.45"/><circle cx="279.2" cy="251.3" r="1.45"/><circle cx="312.4" cy="253.2" r="1.45"/><circle cx="338.5" cy="246.3" r="1.45"/><circle cx="345.4" cy="245.3" r="1.45"/><circle cx="378.3" cy="244.5" r="1.45"/><circle cx="387.2" cy="246.3" r="1.45"/><circle cx="410.4" cy="263.2" r="1.45"/><circle cx="443.4" cy="276.3" r="1.45"/><circle cx="476.3" cy="266.3" r="1.45"/><circle cx="502.4" cy="279.2" r="1.45"/><circle cx="509.5" cy="284.2" r="1.45"/><circle cx="527.1" cy="279.2" r="1.45"/><circle cx="542.4" cy="275.3" r="1.45"/><circle cx="575.3" cy="267.4" r="1.45"/><circle cx="607.5" cy="269.2" r="1.45"/><circle cx="212.9" cy="278.7" r="1.45"/><circle cx="209.4" cy="312.4" r="1.45"/><circle cx="205.5" cy="345.4" r="1.45"/><circle cx="213.4" cy="378.1" r="1.45"/><circle cx="213.4" cy="384.4" r="1.45"/><circle cx="221.3" cy="410.2" r="1.45"/><circle cx="246.3" cy="431.3" r="1.45"/><circle cx="254.2" cy="443.4" r="1.45"/><circle cx="279.2" cy="463.4" r="1.45"/><circle cx="300.3" cy="476.6" r="1.45"/><circle cx="312.4" cy="491.6" r="1.45"/><circle cx="322.4" cy="509.2" r="1.45"/><circle cx="338.5" cy="542.4" r="1.45"/><circle cx="345.4" cy="571.4" r="1.45"/><circle cx="346.4" cy="575.4" r="1.45"/><circle cx="356.4" cy="608.3" r="1.45"/><circle cx="358.3" cy="640.4" r="1.45"/><circle cx="373.3" cy="673.3" r="1.45"/><circle cx="378.3" cy="681.2" r="1.45"/><circle cx="384.4" cy="706.3" r="1.45"/><circle cx="394.4" cy="739.5" r="1.45"/><circle cx="378.3" cy="766.3" r="1.45"/><circle cx="363.3" cy="772.4" r="1.45"/><circle cx="345.4" cy="790.6" r="1.45"/><circle cx="341.4" cy="805.3" r="1.45"/><circle cx="345.4" cy="828.5" r="1.45"/><circle cx="349.3" cy="837.5" r="1.45"/><circle cx="345.4" cy="869.9" r="1.45"/><circle cx="371.2" cy="903.3" r="1.45"/><circle cx="378.3" cy="907.3" r="1.45"/><circle cx="395.2" cy="936.2" r="1.45"/><circle cx="393.3" cy="969.2" r="1.45"/><circle cx="380.1" cy="1002.4" r="1.45"/><circle cx="410.4" cy="1021.4" r="1.45"/><circle cx="439.1" cy="1034.3" r="1.45"/><circle cx="443.6" cy="1035.3" r="1.45"/><circle cx="476.3" cy="1051.4" r="1.45"/><circle cx="509.7" cy="1066.9" r="1.45"/><circle cx="530.6" cy="1100.4" r="1.45"/><circle cx="537.4" cy="1133.3" r="1.45"/><circle cx="542.4" cy="1149.4" r="1.45"/><circle cx="553.2" cy="1166.2" r="1.45"/><circle cx="607.5" cy="1167.3" r="1.45"/><circle cx="575.3" cy="1188.4" r="1.45"/></g></svg>
<svg class="p" style="left:873px;background:#542397" width="624" height="1215" viewBox="0 0 624 1215" shape-rendering="crispEdges"><rect x="197" y="263" width="33" height="33" fill="#8e458c"/><rect x="230" y="263" width="33" height="33" fill="#8e468c"/><rect x="263" y="263" width="33" height="33" fill="#8c458d"/><rect x="296" y="263" width="32" height="33" fill="#91488d"/><rect x="328" y="263" width="33" height="33" fill="#93498c"/><rect x="361" y="263" width="33" height="33" fill="#984c8d"/><rect x="394" y="263" width="33" height="33" fill="#9c4f8c"/><rect x="427" y="263" width="33" height="33" fill="#91468c"/><rect x="525" y="263" width="33" height="33" fill="#8d458d"/><rect x="558" y="263" width="33" height="33" fill="#8c448e"/><rect x="591" y="263" width="33" height="33" fill="#883f8e"/><rect x="197" y="296" width="33" height="32" fill="#8a428c"/><rect x="230" y="296" width="33" height="32" fill="#8e478c"/><rect x="263" y="296" width="33" height="32" fill="#9e518d"/><rect x="296" y="296" width="32" height="32" fill="#a2558f"/><rect x="328" y="296" width="33" height="32" fill="#a6568e"/><rect x="361" y="296" width="66" height="32" fill="#ba3a4c"/><rect x="427" y="296" width="33" height="32" fill="#9b4f8f"/><rect x="460" y="296" width="33" height="32" fill="#803b8b"/><rect x="493" y="296" width="32" height="32" fill="#833d8b"/><rect x="525" y="296" width="33" height="32" fill="#984b8c"/><rect x="558" y="296" width="33" height="32" fill="#9c4e8e"/><rect x="591" y="296" width="33" height="32" fill="#9c4f90"/><rect x="197" y="328" width="33" height="33" fill="#8e458c"/><rect x="230" y="328" width="33" height="33" fill="#8e478d"/><rect x="263" y="328" width="33" height="33" fill="#a45990"/><rect x="296" y="328" width="32" height="33" fill="#ba3a4c"/><rect x="328" y="328" width="33" height="33" fill="#ab5c95"/><rect x="361" y="328" width="99" height="33" fill="#ba3a4c"/><rect x="460" y="328" width="33" height="33" fill="#863e8c"/><rect x="493" y="328" width="32" height="33" fill="#87408b"/><rect x="525" y="328" width="33" height="33" fill="#984b8d"/><rect x="558" y="328" width="33" height="33" fill="#a05290"/><rect x="591" y="328" width="33" height="33" fill="#a45591"/><rect x="230" y="361" width="33" height="33" fill="#89418c"/><rect x="263" y="361" width="33" height="33" fill="#a15590"/><rect x="296" y="361" width="32" height="33" fill="#ba3a4c"/><rect x="328" y="361" width="66" height="33" fill="#ad5e94"/><rect x="394" y="361" width="33" height="33" fill="#ba3a4c"/><rect x="427" y="361" width="33" height="33" fill="#a55790"/><rect x="460" y="361" width="33" height="33" fill="#93488c"/><rect x="493" y="361" width="32" height="33" fill="#92478c"/><rect x="525" y="361" width="33" height="33" fill="#9c4e8e"/><rect x="558" y="361" width="33" height="33" fill="#a25390"/><rect x="591" y="361" width="33" height="33" fill="#a45591"/><rect x="230" y="394" width="33" height="33" fill="#7f3a89"/><rect x="263" y="394" width="33" height="33" fill="#934a8e"/><rect x="296" y="394" width="32" height="33" fill="#a85991"/><rect x="328" y="394" width="66" height="33" fill="#ba3a4c"/><rect x="394" y="394" width="33" height="33" fill="#aa5c94"/><rect x="427" y="394" width="33" height="33" fill="#a55691"/><rect x="460" y="394" width="33" height="33" fill="#9d4f8f"/><rect x="493" y="394" width="32" height="33" fill="#984b8d"/><rect x="525" y="394" width="33" height="33" fill="#974a8d"/><rect x="558" y="394" width="66" height="33" fill="#a25390"/><rect x="296" y="427" width="32" height="33" fill="#8d468e"/><rect x="328" y="427" width="66" height="33" fill="#ba3a4c"/><rect x="394" y="427" width="33" height="33" fill="#a95a93"/><rect x="427" y="427" width="33" height="33" fill="#a45591"/><rect x="460" y="427" width="33" height="33" fill="#9d4f8f"/><rect x="493" y="427" width="32" height="33" fill="#994b8d"/><rect x="525" y="427" width="33" height="33" fill="#974b8d"/><rect x="558" y="427" width="33" height="33" fill="#a25390"/><rect x="591" y="427" width="33" height="33" fill="#a55591"/><rect x="328" y="460" width="33" height="33" fill="#984d8e"/><rect x="361" y="460" width="33" height="33" fill="#a55791"/><rect x="394" y="460" width="33" height="33" fill="#a55690"/><rect x="427" y="460" width="33" height="33" fill="#a15390"/><rect x="460" y="460" width="33" height="33" fill="#9e508f"/><rect x="493" y="460" width="65" height="33" fill="#984b8d"/><rect x="558" y="460" width="33" height="33" fill="#9f508f"/><rect x="591" y="460" width="33" height="33" fill="#a65691"/><rect x="328" y="493" width="33" height="32" fill="#873f8b"/><rect x="361" y="493" width="33" height="32" fill="#994d8e"/><rect x="394" y="493" width="33" height="32" fill="#9d4f8e"/><rect x="427" y="493" width="33" height="32" fill="#a65791"/><rect x="460" y="493" width="33" height="32" fill="#a75892"/><rect x="493" y="493" width="32" height="32" fill="#a15390"/><rect x="525" y="493" width="33" height="32" fill="#a25390"/><rect x="558" y="493" width="33" height="32" fill="#a45490"/><rect x="591" y="493" width="33" height="32" fill="#a95891"/><rect x="361" y="525" width="33" height="33" fill="#89418b"/><rect x="394" y="525" width="33" height="33" fill="#984b8d"/><rect x="427" y="525" width="33" height="33" fill="#a55691"/><rect x="460" y="525" width="33" height="33" fill="#a75892"/><rect x="493" y="525" width="32" height="33" fill="#9e508f"/><rect x="525" y="525" width="33" height="33" fill="#a25390"/><rect x="558" y="525" width="33" height="33" fill="#a45490"/><rect x="591" y="525" width="33" height="33" fill="#af5c91"/><rect x="361" y="558" width="33" height="33" fill="#85408b"/><rect x="394" y="558" width="33" height="33" fill="#964a8d"/><rect x="427" y="558" width="66" height="33" fill="#a85892"/><rect x="493" y="558" width="32" height="33" fill="#a25390"/><rect x="525" y="558" width="33" height="33" fill="#9c4e8d"/><rect x="558" y="558" width="33" height="33" fill="#a25390"/><rect x="591" y="558" width="33" height="33" fill="#aa5991"/><rect x="361" y="591" width="33" height="33" fill="#87418b"/><rect x="394" y="591" width="33" height="33" fill="#9d4f8f"/><rect x="427" y="591" width="33" height="33" fill="#ba3a4c"/><rect x="460" y="591" width="33" height="33" fill="#ab5b93"/><rect x="493" y="591" width="32" height="33" fill="#a55691"/><rect x="525" y="591" width="33" height="33" fill="#a1528f"/><rect x="558" y="591" width="33" height="33" fill="#a25390"/><rect x="591" y="591" width="33" height="33" fill="#a75791"/><rect x="361" y="624" width="33" height="33" fill="#7f3a89"/><rect x="394" y="624" width="33" height="33" fill="#8e458d"/><rect x="427" y="624" width="33" height="33" fill="#ab5c95"/><rect x="460" y="624" width="33" height="33" fill="#ba3a4c"/><rect x="493" y="624" width="32" height="33" fill="#aa5a92"/><rect x="525" y="624" width="33" height="33" fill="#a55690"/><rect x="558" y="624" width="33" height="33" fill="#a25390"/><rect x="591" y="624" width="33" height="33" fill="#a55590"/><rect x="394" y="657" width="33" height="33" fill="#9b4e8f"/><rect x="427" y="657" width="98" height="33" fill="#ba3a4c"/><rect x="525" y="657" width="33" height="33" fill="#ab5a92"/><rect x="558" y="657" width="33" height="33" fill="#a45490"/><rect x="591" y="657" width="33" height="33" fill="#a55590"/><rect x="394" y="690" width="33" height="32" fill="#89428c"/><rect x="427" y="690" width="33" height="32" fill="#ae5f95"/><rect x="460" y="690" width="65" height="32" fill="#ba3a4c"/><rect x="525" y="690" width="33" height="32" fill="#ab5a92"/><rect x="558" y="690" width="33" height="32" fill="#aa5991"/><rect x="591" y="690" width="33" height="32" fill="#ac5b91"/><rect x="394" y="722" width="33" height="33" fill="#93498d"/><rect x="427" y="722" width="98" height="33" fill="#ba3a4c"/><rect x="525" y="722" width="33" height="33" fill="#af5d95"/><rect x="558" y="722" width="66" height="33" fill="#ba3a4c"/><rect x="394" y="755" width="33" height="33" fill="#994d8f"/><rect x="427" y="755" width="98" height="33" fill="#ba3a4c"/><rect x="525" y="755" width="33" height="33" fill="#aa5a93"/><rect x="558" y="755" width="33" height="33" fill="#ad5c94"/><rect x="591" y="755" width="33" height="33" fill="#ba3a4c"/><rect x="361" y="788" width="33" height="33" fill="#8e468c"/><rect x="394" y="788" width="33" height="33" fill="#a45690"/><rect x="427" y="788" width="66" height="33" fill="#ba3a4c"/><rect x="493" y="788" width="32" height="33" fill="#aa5a94"/><rect x="525" y="788" width="33" height="33" fill="#a65691"/><rect x="558" y="788" width="66" height="33" fill="#ba3a4c"/><rect x="361" y="821" width="33" height="33" fill="#89428b"/><rect x="394" y="821" width="33" height="33" fill="#a1538f"/><rect x="427" y="821" width="33" height="33" fill="#ba3a4c"/><rect x="460" y="821" width="33" height="33" fill="#ae5f95"/><rect x="493" y="821" width="32" height="33" fill="#ac5b94"/><rect x="525" y="821" width="33" height="33" fill="#ab5a93"/><rect x="558" y="821" width="66" height="33" fill="#ba3a4c"/><rect x="361" y="854" width="33" height="33" fill="#86408b"/><rect x="394" y="854" width="33" height="33" fill="#9a4d8e"/><rect x="427" y="854" width="66" height="33" fill="#ba3a4c"/><rect x="493" y="854" width="32" height="33" fill="#ab5b94"/><rect x="525" y="854" width="99" height="33" fill="#ba3a4c"/><rect x="394" y="887" width="33" height="32" fill="#8c448c"/><rect x="427" y="887" width="33" height="32" fill="#9f5291"/><rect x="460" y="887" width="33" height="32" fill="#a25492"/><rect x="493" y="887" width="131" height="32" fill="#ba3a4c"/><rect x="394" y="919" width="33" height="33" fill="#89428b"/><rect x="427" y="919" width="33" height="33" fill="#914890"/><rect x="460" y="919" width="33" height="33" fill="#9b4e91"/><rect x="493" y="919" width="32" height="33" fill="#a85994"/><rect x="525" y="919" width="99" height="33" fill="#ba3a4c"/><rect x="394" y="952" width="33" height="33" fill="#8c448c"/><rect x="427" y="952" width="33" height="33" fill="#9d5090"/><rect x="460" y="952" width="33" height="33" fill="#a15391"/><rect x="493" y="952" width="131" height="33" fill="#ba3a4c"/><rect x="361" y="985" width="33" height="33" fill="#8c458c"/><rect x="394" y="985" width="33" height="33" fill="#88418c"/><rect x="427" y="985" width="33" height="33" fill="#89428b"/><rect x="460" y="985" width="33" height="33" fill="#8e468d"/><rect x="493" y="985" width="32" height="33" fill="#954b90"/><rect x="525" y="985" width="33" height="33" fill="#9c4f91"/><rect x="558" y="985" width="66" height="33" fill="#ba3a4c"/><rect x="493" y="1018" width="32" height="33" fill="#803b8b"/><rect x="525" y="1018" width="33" height="33" fill="#88418c"/><rect x="558" y="1018" width="33" height="33" fill="#974a8d"/><rect x="591" y="1018" width="33" height="33" fill="#9b4d8d"/><rect x="525" y="1051" width="33" height="33" fill="#813b8a"/><rect x="558" y="1051" width="33" height="33" fill="#89428b"/><rect x="591" y="1051" width="33" height="33" fill="#87408b"/><rect x="525" y="1084" width="33" height="32" fill="#843e8b"/><rect x="558" y="1084" width="33" height="32" fill="#8c448c"/><rect x="591" y="1084" width="33" height="32" fill="#974a8c"/><rect x="558" y="1116" width="33" height="33" fill="#863f8b"/><rect x="591" y="1116" width="33" height="33" fill="#96498c"/><rect x="558" y="1149" width="33" height="33" fill="#823c8a"/><rect x="591" y="1149" width="33" height="33" fill="#87408b"/><g fill="#000" shape-rendering="geometricPrecision"><circle cx="246.3" cy="257.1" r="1.45"/><circle cx="279.2" cy="251.3" r="1.45"/><circle cx="312.4" cy="253.2" r="1.45"/><circle cx="338.5" cy="246.3" r="1.45"/><circle cx="345.4" cy="245.3" r="1.45"/><circle cx="378.3" cy="244.5" r="1.45"/><circle cx="387.2" cy="246.3" r="1.45"/><circle cx="410.4" cy="263.2" r="1.45"/><circle cx="443.4" cy="276.3" r="1.45"/><circle cx="476.3" cy="266.3" r="1.45"/><circle cx="502.4" cy="279.2" r="1.45"/><circle cx="509.5" cy="284.2" r="1.45"/><circle cx="527.1" cy="279.2" r="1.45"/><circle cx="542.4" cy="275.3" r="1.45"/><circle cx="575.3" cy="267.4" r="1.45"/><circle cx="607.5" cy="269.2" r="1.45"/><circle cx="212.9" cy="278.7" r="1.45"/><circle cx="209.4" cy="312.4" r="1.45"/><circle cx="205.5" cy="345.4" r="1.45"/><circle cx="213.4" cy="378.1" r="1.45"/><circle cx="213.4" cy="384.4" r="1.45"/><circle cx="221.3" cy="410.2" r="1.45"/><circle cx="246.3" cy="431.3" r="1.45"/><circle cx="254.2" cy="443.4" r="1.45"/><circle cx="279.2" cy="463.4" r="1.45"/><circle cx="300.3" cy="476.6" r="1.45"/><circle cx="312.4" cy="491.6" r="1.45"/><circle cx="322.4" cy="509.2" r="1.45"/><circle cx="338.5" cy="542.4" r="1.45"/><circle cx="345.4" cy="571.4" r="1.45"/><circle cx="346.4" cy="575.4" r="1.45"/><circle cx="356.4" cy="608.3" r="1.45"/><circle cx="358.3" cy="640.4" r="1.45"/><circle cx="373.3" cy="673.3" r="1.45"/><circle cx="378.3" cy="681.2" r="1.45"/><circle cx="384.4" cy="706.3" r="1.45"/><circle cx="394.4" cy="739.5" r="1.45"/><circle cx="378.3" cy="766.3" r="1.45"/><circle cx="363.3" cy="772.4" r="1.45"/><circle cx="345.4" cy="790.6" r="1.45"/><circle cx="341.4" cy="805.3" r="1.45"/><circle cx="345.4" cy="828.5" r="1.45"/><circle cx="349.3" cy="837.5" r="1.45"/><circle cx="345.4" cy="869.9" r="1.45"/><circle cx="371.2" cy="903.3" r="1.45"/><circle cx="378.3" cy="907.3" r="1.45"/><circle cx="395.2" cy="936.2" r="1.45"/><circle cx="393.3" cy="969.2" r="1.45"/><circle cx="380.1" cy="1002.4" r="1.45"/><circle cx="410.4" cy="1021.4" r="1.45"/><circle cx="439.1" cy="1034.3" r="1.45"/><circle cx="443.6" cy="1035.3" r="1.45"/><circle cx="476.3" cy="1051.4" r="1.45"/><circle cx="509.7" cy="1066.9" r="1.45"/><circle cx="530.6" cy="1100.4" r="1.45"/><circle cx="537.4" cy="1133.3" r="1.45"/><circle cx="542.4" cy="1149.4" r="1.45"/><circle cx="553.2" cy="1166.2" r="1.45"/><circle cx="607.5" cy="1167.3" r="1.45"/><circle cx="575.3" cy="1188.4" r="1.45"/></g></svg>
<svg class="p" style="left:1730px;background:#721e99" width="624" height="1215" viewBox="0 0 624 1215" shape-rendering="crispEdges"><rect x="0" y="0" width="33" height="33" fill="#6b189b"/><rect x="33" y="0" width="33" height="33" fill="#6c189a"/><rect x="66" y="0" width="33" height="33" fill="#6c179a"/><rect x="99" y="0" width="32" height="33" fill="#6d1899"/><rect x="131" y="0" width="66" height="33" fill="#741f99"/><rect x="197" y="0" width="33" height="33" fill="#762299"/><rect x="230" y="0" width="33" height="33" fill="#721d99"/><rect x="263" y="0" width="65" height="33" fill="#6e1999"/><rect x="328" y="0" width="33" height="33" fill="#711c99"/><rect x="361" y="0" width="33" height="33" fill="#731e99"/><rect x="394" y="0" width="33" height="33" fill="#721c99"/><rect x="427" y="0" width="66" height="33" fill="#6f1a99"/><rect x="493" y="0" width="32" height="33" fill="#6e1999"/><rect x="525" y="0" width="33" height="33" fill="#69169a"/><rect x="558" y="0" width="33" height="33" fill="#6a169a"/><rect x="591" y="0" width="33" height="33" fill="#6b179a"/><rect x="0" y="33" width="33" height="33" fill="#6c1a9b"/><rect x="33" y="33" width="33" height="33" fill="#731f9b"/><rect x="66" y="33" width="33" height="33" fill="#731f9a"/><rect x="99" y="33" width="32" height="33" fill="#6f1a99"/><rect x="131" y="33" width="33" height="33" fill="#721c99"/><rect x="164" y="33" width="33" height="33" fill="#782399"/><rect x="197" y="33" width="33" height="33" fill="#6e1998"/><rect x="230" y="33" width="66" height="33" fill="#731e99"/><rect x="296" y="33" width="32" height="33" fill="#742099"/><rect x="328" y="33" width="33" height="33" fill="#782499"/><rect x="361" y="33" width="33" height="33" fill="#792599"/><rect x="394" y="33" width="33" height="33" fill="#752099"/><rect x="427" y="33" width="66" height="33" fill="#721d99"/><rect x="493" y="33" width="32" height="33" fill="#711c99"/><rect x="525" y="33" width="33" height="33" fill="#6f1a99"/><rect x="558" y="33" width="33" height="33" fill="#721c99"/><rect x="591" y="33" width="33" height="33" fill="#6c189a"/><rect x="0" y="66" width="33" height="33" fill="#71209b"/><rect x="33" y="66" width="33" height="33" fill="#74219a"/><rect x="99" y="66" width="32" height="33" fill="#6d1998"/><rect x="131" y="66" width="33" height="33" fill="#721c98"/><rect x="164" y="66" width="33" height="33" fill="#772299"/><rect x="197" y="66" width="33" height="33" fill="#731d98"/><rect x="230" y="66" width="33" height="33" fill="#752098"/><rect x="263" y="66" width="33" height="33" fill="#7a2699"/><rect x="296" y="66" width="32" height="33" fill="#7b2799"/><rect x="328" y="66" width="33" height="33" fill="#7a2699"/><rect x="361" y="66" width="33" height="33" fill="#812d98"/><rect x="394" y="66" width="33" height="33" fill="#7b2799"/><rect x="427" y="66" width="33" height="33" fill="#721d99"/><rect x="460" y="66" width="65" height="33" fill="#742099"/><rect x="525" y="66" width="33" height="33" fill="#6f1b99"/><rect x="558" y="66" width="66" height="33" fill="#772399"/><rect x="0" y="99" width="33" height="32" fill="#74229b"/><rect x="33" y="99" width="33" height="32" fill="#7c2a98"/><rect x="66" y="99" width="33" height="32" fill="#7c2998"/><rect x="99" y="99" width="32" height="32" fill="#782598"/><rect x="131" y="99" width="33" height="32" fill="#7a2698"/><rect x="164" y="99" width="33" height="32" fill="#752098"/><rect x="197" y="99" width="33" height="32" fill="#772198"/><rect x="230" y="99" width="33" height="32" fill="#7c2799"/><rect x="263" y="99" width="33" height="32" fill="#812e97"/><rect x="296" y="99" width="65" height="32" fill="#772298"/><rect x="361" y="99" width="33" height="32" fill="#7b2698"/><rect x="394" y="99" width="33" height="32" fill="#7d2998"/><rect x="427" y="99" width="33" height="32" fill="#701c98"/><rect x="460" y="99" width="65" height="32" fill="#742098"/><rect x="525" y="99" width="66" height="32" fill="#772398"/><rect x="591" y="99" width="33" height="32" fill="#7a2699"/><rect x="0" y="131" width="33" height="33" fill="#77269b"/><rect x="33" y="131" width="33" height="33" fill="#842f97"/><rect x="66" y="131" width="65" height="33" fill="#832e97"/><rect x="131" y="131" width="33" height="33" fill="#792599"/><rect x="164" y="131" width="33" height="33" fill="#742098"/><rect x="197" y="131" width="33" height="33" fill="#7a2598"/><rect x="230" y="131" width="33" height="33" fill="#842f97"/><rect x="263" y="131" width="33" height="33" fill="#822d97"/><rect x="296" y="131" width="65" height="33" fill="#782398"/><rect x="361" y="131" width="33" height="33" fill="#762198"/><rect x="394" y="131" width="66" height="33" fill="#7a2498"/><rect x="460" y="131" width="33" height="33" fill="#782398"/><rect x="493" y="131" width="32" height="33" fill="#792498"/><rect x="525" y="131" width="66" height="33" fill="#7b2698"/><rect x="591" y="131" width="33" height="33" fill="#7f2a99"/><rect x="0" y="164" width="33" height="33" fill="#7a299b"/><rect x="33" y="164" width="33" height="33" fill="#853297"/><rect x="66" y="164" width="33" height="33" fill="#843197"/><rect x="99" y="164" width="32" height="33" fill="#873497"/><rect x="131" y="164" width="33" height="33" fill="#833096"/><rect x="164" y="164" width="33" height="33" fill="#853297"/><rect x="197" y="164" width="33" height="33" fill="#883496"/><rect x="230" y="164" width="33" height="33" fill="#8c3896"/><rect x="263" y="164" width="33" height="33" fill="#873596"/><rect x="296" y="164" width="32" height="33" fill="#7f2c97"/><rect x="328" y="164" width="66" height="33" fill="#7b2797"/><rect x="394" y="164" width="33" height="33" fill="#803097"/><rect x="427" y="164" width="33" height="33" fill="#833297"/><rect x="460" y="164" width="33" height="33" fill="#823097"/><rect x="493" y="164" width="32" height="33" fill="#8b3796"/><rect x="525" y="164" width="33" height="33" fill="#893596"/><rect x="558" y="164" width="66" height="33" fill="#8b3796"/><rect x="0" y="197" width="33" height="33" fill="#7a289b"/><rect x="33" y="197" width="33" height="33" fill="#7c2a9a"/><rect x="66" y="197" width="33" height="33" fill="#853398"/><rect x="99" y="197" width="32" height="33" fill="#8c3a97"/><rect x="131" y="197" width="33" height="33" fill="#8a3797"/><rect x="164" y="197" width="33" height="33" fill="#883596"/><rect x="197" y="197" width="33" height="33" fill="#913d95"/><rect x="230" y="197" width="33" height="33" fill="#933e96"/><rect x="263" y="197" width="33" height="33" fill="#8c3a96"/><rect x="296" y="197" width="32" height="33" fill="#802e97"/><rect x="328" y="197" width="33" height="33" fill="#7f2c97"/><rect x="361" y="197" width="33" height="33" fill="#7b2897"/><rect x="394" y="197" width="33" height="33" fill="#823097"/><rect x="427" y="197" width="33" height="33" fill="#873497"/><rect x="460" y="197" width="33" height="33" fill="#8e3b96"/><rect x="493" y="197" width="32" height="33" fill="#903c96"/><rect x="525" y="197" width="33" height="33" fill="#8c3897"/><rect x="558" y="197" width="66" height="33" fill="#8d3997"/><rect x="0" y="230" width="33" height="33" fill="#7c2a9b"/><rect x="33" y="230" width="33" height="33" fill="#7b299b"/><rect x="66" y="230" width="33" height="33" fill="#823099"/><rect x="99" y="230" width="32" height="33" fill="#873598"/><rect x="131" y="230" width="33" height="33" fill="#913e98"/><rect x="164" y="230" width="33" height="33" fill="#9e4a97"/><rect x="197" y="230" width="33" height="33" fill="#ab5a98"/><rect x="230" y="230" width="33" height="33" fill="#ba6290"/><rect x="263" y="230" width="33" height="33" fill="#b95f8f"/><rect x="296" y="230" width="32" height="33" fill="#b8608e"/><rect x="328" y="230" width="33" height="33" fill="#ba5d89"/><rect x="361" y="230" width="33" height="33" fill="#bc5c88"/><rect x="394" y="230" width="33" height="33" fill="#b86293"/><rect x="427" y="230" width="33" height="33" fill="#b05c96"/><rect x="460" y="230" width="33" height="33" fill="#b16099"/><rect x="493" y="230" width="32" height="33" fill="#a95799"/><rect x="525" y="230" width="33" height="33" fill="#ac5997"/><rect x="558" y="230" width="33" height="33" fill="#b86292"/><rect x="591" y="230" width="33" height="33" fill="#b76290"/><rect x="0" y="263" width="33" height="33" fill="#78269b"/><rect x="33" y="263" width="33" height="33" fill="#7f2d9a"/><rect x="66" y="263" width="33" height="33" fill="#7f2c9a"/><rect x="99" y="263" width="32" height="33" fill="#863398"/><rect x="131" y="263" width="33" height="33" fill="#a65497"/><rect x="164" y="263" width="33" height="33" fill="#b36397"/><rect x="197" y="263" width="33" height="33" fill="#bf5a86"/><rect x="230" y="263" width="33" height="33" fill="#bf466f"/><rect x="263" y="263" width="33" height="33" fill="#bd426d"/><rect x="296" y="263" width="32" height="33" fill="#bd416c"/><rect x="328" y="263" width="33" height="33" fill="#bd3d67"/><rect x="361" y="263" width="33" height="33" fill="#be3a62"/><rect x="394" y="263" width="33" height="33" fill="#bd4b7b"/><rect x="427" y="263" width="33" height="33" fill="#bf5885"/><rect x="460" y="263" width="33" height="33" fill="#c04a73"/><rect x="493" y="263" width="32" height="33" fill="#b95c8e"/><rect x="525" y="263" width="33" height="33" fill="#bb5a88"/><rect x="558" y="263" width="33" height="33" fill="#c05580"/><rect x="591" y="263" width="33" height="33" fill="#bf5079"/><rect x="0" y="296" width="33" height="32" fill="#6e1c9c"/><rect x="33" y="296" width="33" height="32" fill="#7e2c9a"/><rect x="66" y="296" width="33" height="32" fill="#7b2799"/><rect x="99" y="296" width="32" height="32" fill="#7f2a98"/><rect x="131" y="296" width="33" height="32" fill="#9a4699"/><rect x="164" y="296" width="33" height="32" fill="#a04c98"/><rect x="197" y="296" width="33" height="32" fill="#c0567f"/><rect x="230" y="296" width="33" height="32" fill="#c03868"/><rect x="263" y="296" width="33" height="32" fill="#bd3867"/><rect x="296" y="296" width="32" height="32" fill="#bd3163"/><rect x="328" y="296" width="33" height="32" fill="#bb2a5a"/><rect x="361" y="296" width="33" height="32" fill="#bc2656"/><rect x="394" y="296" width="33" height="32" fill="#bf3a66"/><rect x="427" y="296" width="33" height="32" fill="#be3d67"/><rect x="460" y="296" width="33" height="32" fill="#b9295a"/><rect x="493" y="296" width="32" height="32" fill="#bd3f6d"/><rect x="525" y="296" width="33" height="32" fill="#be416c"/><rect x="558" y="296" width="33" height="32" fill="#c03d67"/><rect x="591" y="296" width="33" height="32" fill="#c03c65"/><rect x="0" y="328" width="33" height="33" fill="#620d9b"/><rect x="33" y="328" width="33" height="33" fill="#7d2b9a"/><rect x="66" y="328" width="33" height="33" fill="#75229a"/><rect x="99" y="328" width="32" height="33" fill="#78239a"/><rect x="131" y="328" width="33" height="33" fill="#923d99"/><rect x="164" y="328" width="33" height="33" fill="#9a4598"/><rect x="197" y="328" width="33" height="33" fill="#c24c78"/><rect x="230" y="328" width="33" height="33" fill="#be3161"/><rect x="263" y="328" width="33" height="33" fill="#be3060"/><rect x="296" y="328" width="32" height="33" fill="#be2b5a"/><rect x="328" y="328" width="33" height="33" fill="#bd1f4e"/><rect x="361" y="328" width="33" height="33" fill="#bf1d4b"/><rect x="394" y="328" width="33" height="33" fill="#be2c59"/><rect x="427" y="328" width="33" height="33" fill="#c03059"/><rect x="460" y="328" width="33" height="33" fill="#ba1e4d"/><rect x="493" y="328" width="32" height="33" fill="#be305d"/><rect x="525" y="328" width="33" height="33" fill="#be305c"/><rect x="558" y="328" width="33" height="33" fill="#bf2f5b"/><rect x="591" y="328" width="33" height="33" fill="#bf2f5a"/><rect x="0" y="361" width="33" height="33" fill="#640f9c"/><rect x="33" y="361" width="33" height="33" fill="#782599"/><rect x="66" y="361" width="33" height="33" fill="#6e1898"/><rect x="99" y="361" width="32" height="33" fill="#6f1a98"/><rect x="131" y="361" width="33" height="33" fill="#833099"/><rect x="164" y="361" width="33" height="33" fill="#8e3a99"/><rect x="197" y="361" width="33" height="33" fill="#c05a83"/><rect x="230" y="361" width="33" height="33" fill="#c03e6c"/><rect x="263" y="361" width="33" height="33" fill="#be3060"/><rect x="296" y="361" width="32" height="33" fill="#be2c5b"/><rect x="328" y="361" width="33" height="33" fill="#be1e4d"/><rect x="361" y="361" width="33" height="33" fill="#bc1544"/><rect x="394" y="361" width="33" height="33" fill="#be234f"/><rect x="427" y="361" width="33" height="33" fill="#bf244f"/><rect x="460" y="361" width="33" height="33" fill="#bf2450"/><rect x="493" y="361" width="32" height="33" fill="#c02d5a"/><rect x="525" y="361" width="33" height="33" fill="#be2b58"/><rect x="558" y="361" width="33" height="33" fill="#be2b57"/><rect x="591" y="361" width="33" height="33" fill="#be2551"/><rect x="0" y="394" width="33" height="33" fill="#65109b"/><rect x="33" y="394" width="33" height="33" fill="#6b1698"/><rect x="66" y="394" width="33" height="33" fill="#6b1798"/><rect x="99" y="394" width="32" height="33" fill="#681597"/><rect x="131" y="394" width="33" height="33" fill="#77239a"/><rect x="164" y="394" width="33" height="33" fill="#833099"/><rect x="197" y="394" width="33" height="33" fill="#c16189"/><rect x="230" y="394" width="33" height="33" fill="#c24a76"/><rect x="263" y="394" width="33" height="33" fill="#be325f"/><rect x="296" y="394" width="32" height="33" fill="#be204f"/><rect x="328" y="394" width="33" height="33" fill="#be1c4a"/><rect x="361" y="394" width="33" height="33" fill="#bd1745"/><rect x="394" y="394" width="33" height="33" fill="#bd1544"/><rect x="427" y="394" width="33" height="33" fill="#bd1745"/><rect x="460" y="394" width="33" height="33" fill="#bf224e"/><rect x="493" y="394" width="32" height="33" fill="#c02d5b"/><rect x="525" y="394" width="33" height="33" fill="#bf254f"/><rect x="558" y="394" width="33" height="33" fill="#bf234e"/><rect x="591" y="394" width="33" height="33" fill="#be1d48"/><rect x="0" y="427" width="33" height="33" fill="#5f0a9a"/><rect x="33" y="427" width="66" height="33" fill="#661297"/><rect x="99" y="427" width="32" height="33" fill="#661396"/><rect x="131" y="427" width="33" height="33" fill="#74219a"/><rect x="164" y="427" width="33" height="33" fill="#711e99"/><rect x="197" y="427" width="33" height="33" fill="#a2509b"/><rect x="230" y="427" width="33" height="33" fill="#c3648e"/><rect x="263" y="427" width="33" height="33" fill="#c03f6a"/><rect x="296" y="427" width="65" height="33" fill="#bf2b58"/><rect x="361" y="427" width="33" height="33" fill="#bf214d"/><rect x="394" y="427" width="33" height="33" fill="#be204c"/><rect x="427" y="427" width="33" height="33" fill="#bc1744"/><rect x="460" y="427" width="33" height="33" fill="#be1c48"/><rect x="493" y="427" width="32" height="33" fill="#be204c"/><rect x="525" y="427" width="33" height="33" fill="#bd1b47"/><rect x="558" y="427" width="33" height="33" fill="#be1e4a"/><rect x="591" y="427" width="33" height="33" fill="#bd1843"/><rect x="0" y="460" width="33" height="33" fill="#59059a"/><rect x="33" y="460" width="33" height="33" fill="#5b0699"/><rect x="66" y="460" width="65" height="33" fill="#651297"/><rect x="131" y="460" width="33" height="33" fill="#691698"/><rect x="164" y="460" width="33" height="33" fill="#6d1a98"/><rect x="197" y="460" width="33" height="33" fill="#7d2a9a"/><rect x="230" y="460" width="33" height="33" fill="#8a369a"/><rect x="263" y="460" width="33" height="33" fill="#b85f98"/><rect x="296" y="460" width="32" height="33" fill="#c1507d"/><rect x="328" y="460" width="33" height="33" fill="#c03964"/><rect x="361" y="460" width="33" height="33" fill="#c02b55"/><rect x="394" y="460" width="33" height="33" fill="#bf2450"/><rect x="427" y="460" width="33" height="33" fill="#bd1a45"/><rect x="460" y="460" width="65" height="33" fill="#be1c47"/><rect x="525" y="460" width="33" height="33" fill="#bd1641"/><rect x="558" y="460" width="33" height="33" fill="#bd1440"/><rect x="591" y="460" width="33" height="33" fill="#bc0e3a"/><rect x="0" y="493" width="33" height="32" fill="#5e0a9a"/><rect x="33" y="493" width="33" height="32" fill="#5a0699"/><rect x="66" y="493" width="33" height="32" fill="#5f0c98"/><rect x="99" y="493" width="32" height="32" fill="#651297"/><rect x="131" y="493" width="33" height="32" fill="#661497"/><rect x="164" y="493" width="33" height="32" fill="#691697"/><rect x="197" y="493" width="33" height="32" fill="#752299"/><rect x="230" y="493" width="33" height="32" fill="#812e99"/><rect x="263" y="493" width="33" height="32" fill="#a6549b"/><rect x="296" y="493" width="32" height="32" fill="#bd6695"/><rect x="328" y="493" width="33" height="32" fill="#c03c67"/><rect x="361" y="493" width="33" height="32" fill="#c0305c"/><rect x="394" y="493" width="33" height="32" fill="#bf2752"/><rect x="427" y="493" width="33" height="32" fill="#be1d48"/><rect x="460" y="493" width="33" height="32" fill="#be1d47"/><rect x="493" y="493" width="32" height="32" fill="#bd1b45"/><rect x="525" y="493" width="33" height="32" fill="#bd1842"/><rect x="558" y="493" width="33" height="32" fill="#bd1641"/><rect x="591" y="493" width="33" height="32" fill="#bc123e"/><rect x="0" y="525" width="33" height="33" fill="#6a189b"/><rect x="33" y="525" width="66" height="33" fill="#560298"/><rect x="99" y="525" width="65" height="33" fill="#621097"/><rect x="164" y="525" width="33" height="33" fill="#630f97"/><rect x="197" y="525" width="33" height="33" fill="#6c1998"/><rect x="230" y="525" width="33" height="33" fill="#772499"/><rect x="263" y="525" width="33" height="33" fill="#92409b"/><rect x="296" y="525" width="32" height="33" fill="#a34f9b"/><rect x="328" y="525" width="33" height="33" fill="#c44a73"/><rect x="361" y="525" width="33" height="33" fill="#c13a65"/><rect x="394" y="525" width="33" height="33" fill="#c02a55"/><rect x="427" y="525" width="33" height="33" fill="#bf214c"/><rect x="460" y="525" width="33" height="33" fill="#bf224c"/><rect x="493" y="525" width="32" height="33" fill="#bb0b39"/><rect x="525" y="525" width="33" height="33" fill="#bc113e"/><rect x="558" y="525" width="66" height="33" fill="#bd1641"/><rect x="0" y="558" width="33" height="33" fill="#6d1b9c"/><rect x="33" y="558" width="33" height="33" fill="#5c0898"/><rect x="66" y="558" width="33" height="33" fill="#550097"/><rect x="99" y="558" width="32" height="33" fill="#560096"/><rect x="131" y="558" width="33" height="33" fill="#631097"/><rect x="164" y="558" width="33" height="33" fill="#6c1a98"/><rect x="197" y="558" width="33" height="33" fill="#742199"/><rect x="230" y="558" width="33" height="33" fill="#7c2999"/><rect x="263" y="558" width="33" height="33" fill="#87339a"/><rect x="296" y="558" width="32" height="33" fill="#8e3a9a"/><rect x="328" y="558" width="33" height="33" fill="#c5577f"/><rect x="361" y="558" width="33" height="33" fill="#c13b66"/><rect x="394" y="558" width="33" height="33" fill="#c02a55"/><rect x="427" y="558" width="33" height="33" fill="#be1e4a"/><rect x="460" y="558" width="33" height="33" fill="#bd1a45"/><rect x="493" y="558" width="32" height="33" fill="#bb0a37"/><rect x="525" y="558" width="33" height="33" fill="#b90434"/><rect x="558" y="558" width="33" height="33" fill="#bc103d"/><rect x="591" y="558" width="33" height="33" fill="#bd1540"/><rect x="0" y="591" width="33" height="33" fill="#6f1d9c"/><rect x="33" y="591" width="33" height="33" fill="#6a1799"/><rect x="66" y="591" width="33" height="33" fill="#5e0a98"/><rect x="99" y="591" width="32" height="33" fill="#560096"/><rect x="131" y="591" width="33" height="33" fill="#611097"/><rect x="164" y="591" width="33" height="33" fill="#701d98"/><rect x="197" y="591" width="33" height="33" fill="#762399"/><rect x="230" y="591" width="33" height="33" fill="#873499"/><rect x="263" y="591" width="33" height="33" fill="#782699"/><rect x="296" y="591" width="32" height="33" fill="#772499"/><rect x="328" y="591" width="33" height="33" fill="#bf6490"/><rect x="361" y="591" width="33" height="33" fill="#c14672"/><rect x="394" y="591" width="33" height="33" fill="#c2305c"/><rect x="427" y="591" width="33" height="33" fill="#bf244f"/><rect x="460" y="591" width="33" height="33" fill="#bd1944"/><rect x="493" y="591" width="32" height="33" fill="#bb0a38"/><rect x="525" y="591" width="33" height="33" fill="#b90434"/><rect x="558" y="591" width="33" height="33" fill="#b90535"/><rect x="591" y="591" width="33" height="33" fill="#bb0d3a"/><rect x="0" y="624" width="33" height="33" fill="#72209c"/><rect x="33" y="624" width="33" height="33" fill="#6d1b9a"/><rect x="66" y="624" width="33" height="33" fill="#6f1c99"/><rect x="99" y="624" width="32" height="33" fill="#570097"/><rect x="131" y="624" width="33" height="33" fill="#601097"/><rect x="164" y="624" width="33" height="33" fill="#711e99"/><rect x="197" y="624" width="33" height="33" fill="#7b2899"/><rect x="230" y="624" width="33" height="33" fill="#7c2999"/><rect x="263" y="624" width="33" height="33" fill="#7d2b99"/><rect x="296" y="624" width="32" height="33" fill="#7e2c99"/><rect x="328" y="624" width="33" height="33" fill="#bd6592"/><rect x="361" y="624" width="33" height="33" fill="#c34772"/><rect x="394" y="624" width="33" height="33" fill="#c02956"/><rect x="427" y="624" width="33" height="33" fill="#bf234e"/><rect x="460" y="624" width="33" height="33" fill="#be1e49"/><rect x="493" y="624" width="32" height="33" fill="#bc0f3c"/><rect x="525" y="624" width="33" height="33" fill="#ba0736"/><rect x="558" y="624" width="33" height="33" fill="#b90433"/><rect x="591" y="624" width="33" height="33" fill="#ba0636"/><rect x="0" y="657" width="33" height="33" fill="#6e1c9c"/><rect x="33" y="657" width="33" height="33" fill="#7a2899"/><rect x="66" y="657" width="33" height="33" fill="#6c1a99"/><rect x="99" y="657" width="32" height="33" fill="#560097"/><rect x="131" y="657" width="33" height="33" fill="#5f0c97"/><rect x="164" y="657" width="33" height="33" fill="#6d1a98"/><rect x="197" y="657" width="33" height="33" fill="#742099"/><rect x="230" y="657" width="33" height="33" fill="#802d99"/><rect x="263" y="657" width="33" height="33" fill="#7f2b99"/><rect x="296" y="657" width="32" height="33" fill="#842f99"/><rect x="328" y="657" width="33" height="33" fill="#b86394"/><rect x="361" y="657" width="33" height="33" fill="#c35a86"/><rect x="394" y="657" width="33" height="33" fill="#c0305b"/><rect x="427" y="657" width="33" height="33" fill="#bf234f"/><rect x="460" y="657" width="33" height="33" fill="#be1f4b"/><rect x="493" y="657" width="32" height="33" fill="#bd1843"/><rect x="525" y="657" width="33" height="33" fill="#bb0a38"/><rect x="558" y="657" width="33" height="33" fill="#b90433"/><rect x="591" y="657" width="33" height="33" fill="#ba0636"/><rect x="0" y="690" width="33" height="32" fill="#6d1b9c"/><rect x="33" y="690" width="33" height="32" fill="#711e9a"/><rect x="66" y="690" width="33" height="32" fill="#6b1899"/><rect x="99" y="690" width="32" height="32" fill="#5f0b98"/><rect x="131" y="690" width="33" height="32" fill="#661398"/><rect x="164" y="690" width="33" height="32" fill="#6b1798"/><rect x="197" y="690" width="33" height="32" fill="#6d1998"/><rect x="230" y="690" width="33" height="32" fill="#7f2b99"/><rect x="263" y="690" width="33" height="32" fill="#873599"/><rect x="296" y="690" width="32" height="32" fill="#8b3899"/><rect x="328" y="690" width="33" height="32" fill="#b25a98"/><rect x="361" y="690" width="33" height="32" fill="#c36a93"/><rect x="394" y="690" width="33" height="32" fill="#bf305c"/><rect x="427" y="690" width="33" height="32" fill="#bf234f"/><rect x="460" y="690" width="33" height="32" fill="#be224e"/><rect x="493" y="690" width="32" height="32" fill="#be1d48"/><rect x="525" y="690" width="33" height="32" fill="#bb0d3a"/><rect x="558" y="690" width="33" height="32" fill="#ba0535"/><rect x="591" y="690" width="33" height="32" fill="#bd1540"/><rect x="0" y="722" width="33" height="33" fill="#6a189c"/><rect x="33" y="722" width="33" height="33" fill="#620e99"/><rect x="66" y="722" width="33" height="33" fill="#691699"/><rect x="99" y="722" width="65" height="33" fill="#6a1799"/><rect x="164" y="722" width="33" height="33" fill="#671498"/><rect x="197" y="722" width="33" height="33" fill="#742099"/><rect x="230" y="722" width="33" height="33" fill="#802c99"/><rect x="263" y="722" width="33" height="33" fill="#873599"/><rect x="296" y="722" width="32" height="33" fill="#8c3999"/><rect x="328" y="722" width="33" height="33" fill="#a5509b"/><rect x="361" y="722" width="33" height="33" fill="#a7539b"/><rect x="394" y="722" width="33" height="33" fill="#bf3c68"/><rect x="427" y="722" width="33" height="33" fill="#c02a56"/><rect x="460" y="722" width="33" height="33" fill="#bf2652"/><rect x="493" y="722" width="32" height="33" fill="#be1f4a"/><rect x="525" y="722" width="33" height="33" fill="#bc0f3b"/><rect x="558" y="722" width="33" height="33" fill="#bb0b38"/><rect x="591" y="722" width="33" height="33" fill="#bd1641"/><rect x="0" y="755" width="33" height="33" fill="#6c1a9c"/><rect x="33" y="755" width="33" height="33" fill="#6c1a9a"/><rect x="66" y="755" width="33" height="33" fill="#6c1a99"/><rect x="99" y="755" width="32" height="33" fill="#6b1899"/><rect x="131" y="755" width="66" height="33" fill="#701c99"/><rect x="197" y="755" width="33" height="33" fill="#762299"/><rect x="230" y="755" width="33" height="33" fill="#7f2b99"/><rect x="263" y="755" width="33" height="33" fill="#883599"/><rect x="296" y="755" width="32" height="33" fill="#8b3899"/><rect x="328" y="755" width="33" height="33" fill="#be648f"/><rect x="361" y="755" width="33" height="33" fill="#c3507c"/><rect x="394" y="755" width="33" height="33" fill="#bf2f5b"/><rect x="427" y="755" width="33" height="33" fill="#bf2450"/><rect x="460" y="755" width="33" height="33" fill="#bf214d"/><rect x="493" y="755" width="32" height="33" fill="#be1c47"/><rect x="525" y="755" width="33" height="33" fill="#bb0f3b"/><rect x="558" y="755" width="33" height="33" fill="#bb0c39"/><rect x="591" y="755" width="33" height="33" fill="#be1a45"/><rect x="0" y="788" width="33" height="33" fill="#6b199c"/><rect x="33" y="788" width="33" height="33" fill="#752299"/><rect x="66" y="788" width="33" height="33" fill="#701d99"/><rect x="99" y="788" width="32" height="33" fill="#6b1899"/><rect x="131" y="788" width="33" height="33" fill="#73209a"/><rect x="164" y="788" width="33" height="33" fill="#7a259a"/><rect x="197" y="788" width="33" height="33" fill="#802b9a"/><rect x="230" y="788" width="33" height="33" fill="#802b99"/><rect x="263" y="788" width="33" height="33" fill="#8a3799"/><rect x="296" y="788" width="32" height="33" fill="#954198"/><rect x="328" y="788" width="33" height="33" fill="#c04e7a"/><rect x="361" y="788" width="33" height="33" fill="#c13e6a"/><rect x="394" y="788" width="33" height="33" fill="#bf2f5b"/><rect x="427" y="788" width="33" height="33" fill="#bf214e"/><rect x="460" y="788" width="33" height="33" fill="#bf1f4b"/><rect x="493" y="788" width="32" height="33" fill="#be1d47"/><rect x="525" y="788" width="33" height="33" fill="#bb0d3a"/><rect x="558" y="788" width="33" height="33" fill="#be1a45"/><rect x="591" y="788" width="33" height="33" fill="#bf224d"/><rect x="0" y="821" width="33" height="33" fill="#701d9c"/><rect x="33" y="821" width="33" height="33" fill="#701d9a"/><rect x="66" y="821" width="33" height="33" fill="#711d9a"/><rect x="99" y="821" width="32" height="33" fill="#6b1899"/><rect x="131" y="821" width="66" height="33" fill="#73209a"/><rect x="197" y="821" width="33" height="33" fill="#701c99"/><rect x="230" y="821" width="33" height="33" fill="#842f9a"/><rect x="263" y="821" width="33" height="33" fill="#8a3699"/><rect x="296" y="821" width="32" height="33" fill="#8c3899"/><rect x="328" y="821" width="33" height="33" fill="#c35c85"/><rect x="361" y="821" width="33" height="33" fill="#c1426d"/><rect x="394" y="821" width="33" height="33" fill="#bf2d59"/><rect x="427" y="821" width="33" height="33" fill="#bf214d"/><rect x="460" y="821" width="33" height="33" fill="#be1a47"/><rect x="493" y="821" width="32" height="33" fill="#bc0f3c"/><rect x="525" y="821" width="33" height="33" fill="#bc0e3b"/><rect x="558" y="821" width="33" height="33" fill="#be1c47"/><rect x="591" y="821" width="33" height="33" fill="#bf244f"/><rect x="0" y="854" width="33" height="33" fill="#6d1a9c"/><rect x="33" y="854" width="33" height="33" fill="#772499"/><rect x="66" y="854" width="33" height="33" fill="#73209a"/><rect x="99" y="854" width="32" height="33" fill="#711e99"/><rect x="131" y="854" width="66" height="33" fill="#73209a"/><rect x="197" y="854" width="33" height="33" fill="#7b279a"/><rect x="230" y="854" width="33" height="33" fill="#802b99"/><rect x="263" y="854" width="33" height="33" fill="#893599"/><rect x="296" y="854" width="32" height="33" fill="#8c3899"/><rect x="328" y="854" width="33" height="33" fill="#c35783"/><rect x="361" y="854" width="33" height="33" fill="#c1436e"/><rect x="394" y="854" width="33" height="33" fill="#bf2d59"/><rect x="427" y="854" width="33" height="33" fill="#bf214d"/><rect x="460" y="854" width="33" height="33" fill="#be1a46"/><rect x="493" y="854" width="32" height="33" fill="#bb0d3a"/><rect x="525" y="854" width="33" height="33" fill="#bd1641"/><rect x="558" y="854" width="33" height="33" fill="#be1c47"/><rect x="591" y="854" width="33" height="33" fill="#bf234e"/><rect x="0" y="887" width="33" height="32" fill="#72209c"/><rect x="33" y="887" width="33" height="32" fill="#6a1799"/><rect x="66" y="887" width="33" height="32" fill="#6b1899"/><rect x="99" y="887" width="32" height="32" fill="#762299"/><rect x="131" y="887" width="33" height="32" fill="#73209a"/><rect x="164" y="887" width="33" height="32" fill="#6a1699"/><rect x="197" y="887" width="33" height="32" fill="#77229a"/><rect x="230" y="887" width="33" height="32" fill="#802b99"/><rect x="263" y="887" width="33" height="32" fill="#832e99"/><rect x="296" y="887" width="32" height="32" fill="#842f99"/><rect x="328" y="887" width="33" height="32" fill="#bb6493"/><rect x="361" y="887" width="33" height="32" fill="#c3527c"/><rect x="394" y="887" width="33" height="32" fill="#bf2b58"/><rect x="427" y="887" width="33" height="32" fill="#bf214d"/><rect x="460" y="887" width="33" height="32" fill="#bd1541"/><rect x="493" y="887" width="32" height="32" fill="#bc103c"/><rect x="525" y="887" width="33" height="32" fill="#bd133f"/><rect x="558" y="887" width="33" height="32" fill="#bd1641"/><rect x="591" y="887" width="33" height="32" fill="#bf234e"/><rect x="0" y="919" width="33" height="33" fill="#701e9c"/><rect x="33" y="919" width="33" height="33" fill="#671398"/><rect x="66" y="919" width="33" height="33" fill="#691598"/><rect x="99" y="919" width="32" height="33" fill="#75219a"/><rect x="131" y="919" width="33" height="33" fill="#6a1699"/><rect x="164" y="919" width="33" height="33" fill="#691598"/><rect x="197" y="919" width="33" height="33" fill="#6e1a98"/><rect x="230" y="919" width="33" height="33" fill="#802b99"/><rect x="263" y="919" width="33" height="33" fill="#7c2799"/><rect x="296" y="919" width="32" height="33" fill="#782399"/><rect x="328" y="919" width="33" height="33" fill="#9b4699"/><rect x="361" y="919" width="33" height="33" fill="#b15c98"/><rect x="394" y="919" width="33" height="33" fill="#c2426c"/><rect x="427" y="919" width="33" height="33" fill="#bf2a56"/><rect x="460" y="919" width="33" height="33" fill="#bd1540"/><rect x="493" y="919" width="32" height="33" fill="#bb0c39"/><rect x="525" y="919" width="33" height="33" fill="#bc0f3b"/><rect x="558" y="919" width="33" height="33" fill="#bc113d"/><rect x="591" y="919" width="33" height="33" fill="#be1e49"/><rect x="0" y="952" width="33" height="33" fill="#6f1d9c"/><rect x="33" y="952" width="33" height="33" fill="#6c199a"/><rect x="66" y="952" width="33" height="33" fill="#6f1c99"/><rect x="99" y="952" width="32" height="33" fill="#77239a"/><rect x="131" y="952" width="33" height="33" fill="#6a1699"/><rect x="164" y="952" width="33" height="33" fill="#650f97"/><rect x="197" y="952" width="33" height="33" fill="#6b1798"/><rect x="230" y="952" width="33" height="33" fill="#731e98"/><rect x="263" y="952" width="33" height="33" fill="#782399"/><rect x="296" y="952" width="32" height="33" fill="#7b2699"/><rect x="328" y="952" width="33" height="33" fill="#a8529a"/><rect x="361" y="952" width="33" height="33" fill="#bd6895"/><rect x="394" y="952" width="33" height="33" fill="#c24873"/><rect x="427" y="952" width="33" height="33" fill="#c03c67"/><rect x="460" y="952" width="33" height="33" fill="#c02e5a"/><rect x="493" y="952" width="32" height="33" fill="#bf2550"/><rect x="525" y="952" width="66" height="33" fill="#be204b"/><rect x="591" y="952" width="33" height="33" fill="#c02e59"/><rect x="0" y="985" width="33" height="33" fill="#711f9c"/><rect x="33" y="985" width="33" height="33" fill="#6e1b9a"/><rect x="66" y="985" width="33" height="33" fill="#731f9a"/><rect x="99" y="985" width="32" height="33" fill="#7c289a"/><rect x="131" y="985" width="33" height="33" fill="#6f1b99"/><rect x="164" y="985" width="33" height="33" fill="#620c97"/><rect x="197" y="985" width="66" height="33" fill="#681397"/><rect x="263" y="985" width="33" height="33" fill="#711c98"/><rect x="296" y="985" width="32" height="33" fill="#751f98"/><rect x="328" y="985" width="33" height="33" fill="#b35e98"/><rect x="361" y="985" width="33" height="33" fill="#c2628b"/><rect x="394" y="985" width="33" height="33" fill="#c14b75"/><rect x="427" y="985" width="33" height="33" fill="#c14069"/><rect x="460" y="985" width="33" height="33" fill="#c0365f"/><rect x="493" y="985" width="32" height="33" fill="#bf244f"/><rect x="525" y="985" width="33" height="33" fill="#bd1e49"/><rect x="558" y="985" width="33" height="33" fill="#be1e49"/><rect x="591" y="985" width="33" height="33" fill="#c13c67"/><rect x="0" y="1018" width="33" height="33" fill="#72209c"/><rect x="33" y="1018" width="33" height="33" fill="#6b1899"/><rect x="66" y="1018" width="33" height="33" fill="#731f9a"/><rect x="99" y="1018" width="32" height="33" fill="#7b2899"/><rect x="131" y="1018" width="33" height="33" fill="#6f1b99"/><rect x="164" y="1018" width="33" height="33" fill="#650f97"/><rect x="197" y="1018" width="66" height="33" fill="#661197"/><rect x="263" y="1018" width="33" height="33" fill="#6f1a98"/><rect x="296" y="1018" width="32" height="33" fill="#72209a"/><rect x="328" y="1018" width="33" height="33" fill="#a04b9b"/><rect x="361" y="1018" width="33" height="33" fill="#bd6794"/><rect x="394" y="1018" width="33" height="33" fill="#be6996"/><rect x="427" y="1018" width="33" height="33" fill="#c65d86"/><rect x="460" y="1018" width="33" height="33" fill="#c2426c"/><rect x="493" y="1018" width="32" height="33" fill="#c1305a"/><rect x="525" y="1018" width="33" height="33" fill="#bf234e"/><rect x="558" y="1018" width="33" height="33" fill="#bc1843"/><rect x="591" y="1018" width="33" height="33" fill="#c03661"/><rect x="0" y="1051" width="33" height="33" fill="#75239c"/><rect x="33" y="1051" width="66" height="33" fill="#73209a"/><rect x="99" y="1051" width="32" height="33" fill="#7b279a"/><rect x="164" y="1051" width="33" height="33" fill="#661197"/><rect x="197" y="1051" width="33" height="33" fill="#631097"/><rect x="230" y="1051" width="33" height="33" fill="#5f0b97"/><rect x="263" y="1051" width="65" height="33" fill="#6a1698"/><rect x="328" y="1051" width="33" height="33" fill="#812c99"/><rect x="361" y="1051" width="33" height="33" fill="#913c9a"/><rect x="394" y="1051" width="33" height="33" fill="#883399"/><rect x="427" y="1051" width="33" height="33" fill="#924099"/><rect x="460" y="1051" width="33" height="33" fill="#b45e98"/><rect x="493" y="1051" width="32" height="33" fill="#c45f8a"/><rect x="525" y="1051" width="33" height="33" fill="#c13a65"/><rect x="558" y="1051" width="33" height="33" fill="#bf2752"/><rect x="591" y="1051" width="33" height="33" fill="#c13a65"/><rect x="0" y="1084" width="33" height="32" fill="#76259c"/><rect x="33" y="1084" width="33" height="32" fill="#812e9a"/><rect x="66" y="1084" width="33" height="32" fill="#79269a"/><rect x="99" y="1084" width="32" height="32" fill="#7c289a"/><rect x="164" y="1084" width="33" height="32" fill="#6b1698"/><rect x="197" y="1084" width="33" height="32" fill="#641097"/><rect x="230" y="1084" width="33" height="32" fill="#5b0796"/><rect x="263" y="1084" width="33" height="32" fill="#641197"/><rect x="296" y="1084" width="32" height="32" fill="#6c1998"/><rect x="328" y="1084" width="33" height="32" fill="#7d2999"/><rect x="361" y="1084" width="66" height="32" fill="#812c99"/><rect x="427" y="1084" width="33" height="32" fill="#873299"/><rect x="460" y="1084" width="33" height="32" fill="#923e9a"/><rect x="493" y="1084" width="32" height="32" fill="#a8529b"/><rect x="525" y="1084" width="33" height="32" fill="#c24d77"/><rect x="558" y="1084" width="33" height="32" fill="#c02954"/><rect x="591" y="1084" width="33" height="32" fill="#c2446e"/><rect x="0" y="1116" width="33" height="33" fill="#7e2b9c"/><rect x="33" y="1116" width="33" height="33" fill="#862f9a"/><rect x="66" y="1116" width="33" height="33" fill="#82309a"/><rect x="99" y="1116" width="32" height="33" fill="#7e299a"/><rect x="164" y="1116" width="33" height="33" fill="#6a1698"/><rect x="197" y="1116" width="33" height="33" fill="#610e97"/><rect x="230" y="1116" width="33" height="33" fill="#5a0696"/><rect x="263" y="1116" width="33" height="33" fill="#631097"/><rect x="296" y="1116" width="32" height="33" fill="#6d1998"/><rect x="328" y="1116" width="33" height="33" fill="#7b2799"/><rect x="361" y="1116" width="33" height="33" fill="#7d2999"/><rect x="394" y="1116" width="66" height="33" fill="#802b99"/><rect x="460" y="1116" width="33" height="33" fill="#802b9a"/><rect x="493" y="1116" width="32" height="33" fill="#812c9b"/><rect x="525" y="1116" width="33" height="33" fill="#c34f79"/><rect x="558" y="1116" width="33" height="33" fill="#c02a55"/><rect x="591" y="1116" width="33" height="33" fill="#c34872"/><rect x="0" y="1149" width="33" height="33" fill="#7c2a9c"/><rect x="33" y="1149" width="33" height="33" fill="#73209a"/><rect x="66" y="1149" width="33" height="33" fill="#79259a"/><rect x="99" y="1149" width="32" height="33" fill="#7c289a"/><rect x="164" y="1149" width="33" height="33" fill="#671398"/><rect x="197" y="1149" width="33" height="33" fill="#681598"/><rect x="230" y="1149" width="33" height="33" fill="#661397"/><rect x="263" y="1149" width="33" height="33" fill="#681498"/><rect x="296" y="1149" width="32" height="33" fill="#6c1898"/><rect x="328" y="1149" width="33" height="33" fill="#7a2699"/><rect x="361" y="1149" width="66" height="33" fill="#802b99"/><rect x="427" y="1149" width="33" height="33" fill="#873299"/><rect x="460" y="1149" width="33" height="33" fill="#832f9a"/><rect x="493" y="1149" width="32" height="33" fill="#822c9b"/><rect x="525" y="1149" width="33" height="33" fill="#bd6593"/><rect x="558" y="1149" width="33" height="33" fill="#c2426d"/><rect x="591" y="1149" width="33" height="33" fill="#c25c87"/><rect x="0" y="1182" width="33" height="33" fill="#701e9c"/><rect x="33" y="1182" width="33" height="33" fill="#711e9a"/><rect x="66" y="1182" width="33" height="33" fill="#73209a"/><rect x="99" y="1182" width="32" height="33" fill="#7a279a"/><rect x="164" y="1182" width="33" height="33" fill="#6b1798"/><rect x="197" y="1182" width="33" height="33" fill="#6e1b98"/><rect x="230" y="1182" width="33" height="33" fill="#762298"/><rect x="263" y="1182" width="33" height="33" fill="#701c98"/><rect x="296" y="1182" width="32" height="33" fill="#6f1b98"/><rect x="328" y="1182" width="33" height="33" fill="#7a2699"/><rect x="361" y="1182" width="66" height="33" fill="#7c2899"/><rect x="427" y="1182" width="33" height="33" fill="#873299"/><rect x="460" y="1182" width="33" height="33" fill="#822e9a"/><rect x="493" y="1182" width="32" height="33" fill="#7f2a9b"/><rect x="525" y="1182" width="33" height="33" fill="#a04a9b"/><rect x="558" y="1182" width="33" height="33" fill="#bb6293"/><rect x="591" y="1182" width="33" height="33" fill="#b96295"/><g fill="#000" shape-rendering="geometricPrecision"><circle cx="246.3" cy="257.1" r="1.45"/><circle cx="279.2" cy="251.3" r="1.45"/><circle cx="312.4" cy="253.2" r="1.45"/><circle cx="338.5" cy="246.3" r="1.45"/><circle cx="345.4" cy="245.3" r="1.45"/><circle cx="378.3" cy="244.5" r="1.45"/><circle cx="387.2" cy="246.3" r="1.45"/><circle cx="410.4" cy="263.2" r="1.45"/><circle cx="443.4" cy="276.3" r="1.45"/><circle cx="476.3" cy="266.3" r="1.45"/><circle cx="502.4" cy="279.2" r="1.45"/><circle cx="509.5" cy="284.2" r="1.45"/><circle cx="527.1" cy="279.2" r="1.45"/><circle cx="542.4" cy="275.3" r="1.45"/><circle cx="575.3" cy="267.4" r="1.45"/><circle cx="607.5" cy="269.2" r="1.45"/><circle cx="212.9" cy="278.7" r="1.45"/><circle cx="209.4" cy="312.4" r="1.45"/><circle cx="205.5" cy="345.4" r="1.45"/><circle cx="213.4" cy="378.1" r="1.45"/><circle cx="213.4" cy="384.4" r="1.45"/><circle cx="221.3" cy="410.2" r="1.45"/><circle cx="246.3" cy="431.3" r="1.45"/><circle cx="254.2" cy="443.4" r="1.45"/><circle cx="279.2" cy="463.4" r="1.45"/><circle cx="300.3" cy="476.6" r="1.45"/><circle cx="312.4" cy="491.6" r="1.45"/><circle cx="322.4" cy="509.2" r="1.45"/><circle cx="338.5" cy="542.4" r="1.45"/><circle cx="345.4" cy="571.4" r="1.45"/><circle cx="346.4" cy="575.4" r="1.45"/><circle cx="356.4" cy="608.3" r="1.45"/><circle cx="358.3" cy="640.4" r="1.45"/><circle cx="373.3" cy="673.3" r="1.45"/><circle cx="378.3" cy="681.2" r="1.45"/><circle cx="384.4" cy="706.3" r="1.45"/><circle cx="394.4" cy="739.5" r="1.45"/><circle cx="378.3" cy="766.3" r="1.45"/><circle cx="363.3" cy="772.4" r="1.45"/><circle cx="345.4" cy="790.6" r="1.45"/><circle cx="341.4" cy="805.3" r="1.45"/><circle cx="345.4" cy="828.5" r="1.45"/><circle cx="349.3" cy="837.5" r="1.45"/><circle cx="345.4" cy="869.9" r="1.45"/><circle cx="371.2" cy="903.3" r="1.45"/><circle cx="378.3" cy="907.3" r="1.45"/><circle cx="395.2" cy="936.2" r="1.45"/><circle cx="393.3" cy="969.2" r="1.45"/><circle cx="380.1" cy="1002.4" r="1.45"/><circle cx="410.4" cy="1021.4" r="1.45"/><circle cx="439.1" cy="1034.3" r="1.45"/><circle cx="443.6" cy="1035.3" r="1.45"/><circle cx="476.3" cy="1051.4" r="1.45"/><circle cx="509.7" cy="1066.9" r="1.45"/><circle cx="530.6" cy="1100.4" r="1.45"/><circle cx="537.4" cy="1133.3" r="1.45"/><circle cx="542.4" cy="1149.4" r="1.45"/><circle cx="553.2" cy="1166.2" r="1.45"/><circle cx="607.5" cy="1167.3" r="1.45"/><circle cx="575.3" cy="1188.4" r="1.45"/></g></svg>
</body></html>
